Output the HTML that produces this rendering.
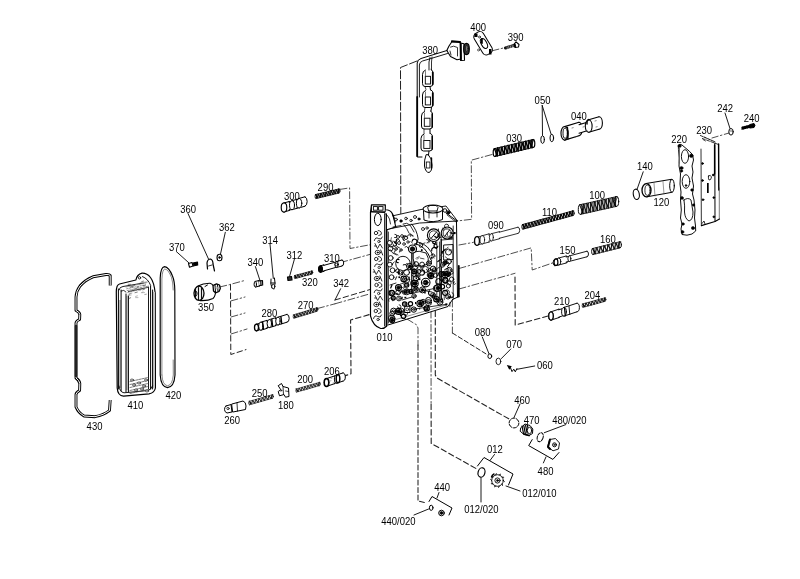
<!DOCTYPE html>
<html><head><meta charset="utf-8"><title>Valve body exploded view</title>
<style>
html,body{margin:0;padding:0;background:#fff;}
body{width:800px;height:579px;overflow:hidden;}
svg{display:block;filter:grayscale(100%);}
svg text{font-family:"Liberation Sans",sans-serif;fill:#000;stroke:none;}
</style></head><body>
<svg width="800" height="579" viewBox="0 0 800 579" font-family="Liberation Sans, sans-serif" stroke-linecap="round">
<rect x="0" y="0" width="800" height="579" fill="#fff"/>
<polyline points="417,61 400.5,67.5 400.8,213.5" fill="none" stroke="#222" stroke-width="1.0" stroke-dasharray="8,2.5" stroke-linejoin="round"/>
<polyline points="492,154.5 471.3,160.2 471.6,219.3 457,221" fill="none" stroke="#222" stroke-width="0.8" stroke-dasharray="7,2.5,1.5,2.5" stroke-linejoin="round"/>
<polyline points="459,245 473.4,242.4" fill="none" stroke="#222" stroke-width="0.8" stroke-dasharray="7,2.5,1.5,2.5" stroke-linejoin="round"/>
<polyline points="459,268.5 531.2,247.9 532.2,270 554.5,262.3" fill="none" stroke="#222" stroke-width="0.8" stroke-dasharray="7,2.5,1.5,2.5" stroke-linejoin="round"/>
<polyline points="459,289 515,273.3" fill="none" stroke="#222" stroke-width="0.8" stroke-dasharray="7,2.5,1.5,2.5" stroke-linejoin="round"/>
<polyline points="515,277 515.2,325 550.5,315.4" fill="none" stroke="#222" stroke-width="1.1" stroke-dasharray="5.5,3" stroke-linejoin="round"/>
<polyline points="452.4,300 452.4,333" fill="none" stroke="#222" stroke-width="0.8" stroke-dasharray="7,2.5,1.5,2.5" stroke-linejoin="round"/>
<polyline points="452.4,333 487,354.5" fill="none" stroke="#222" stroke-width="1.0" stroke-dasharray="4.5,2.5" stroke-linejoin="round"/>
<polyline points="435.3,311 435.3,375 437,378 509,419" fill="none" stroke="#222" stroke-width="1.1" stroke-dasharray="5.5,3" stroke-linejoin="round"/>
<polyline points="431,311 431.1,404" fill="none" stroke="#222" stroke-width="0.8" stroke-dasharray="7,2.5,1.5,2.5" stroke-linejoin="round"/>
<polyline points="431.1,404 431.2,443.4 476,468.5" fill="none" stroke="#222" stroke-width="1.1" stroke-dasharray="5.5,3" stroke-linejoin="round"/>
<polyline points="407,319 416.5,324.8 418,328 418,345" fill="none" stroke="#222" stroke-width="0.8" stroke-dasharray="7,2.5,1.5,2.5" stroke-linejoin="round"/>
<polyline points="418,345 418,501 426,503" fill="none" stroke="#222" stroke-width="1.05" stroke-dasharray="5,2.5" stroke-linejoin="round"/>
<polyline points="340,189.4 349.6,187.9 350,248.5 371,244.6" fill="none" stroke="#222" stroke-width="0.8" stroke-dasharray="7,2.5,1.5,2.5" stroke-linejoin="round"/>
<polyline points="340.7,262.5 370,254.4" fill="none" stroke="#222" stroke-width="0.8" stroke-dasharray="7,2.5,1.5,2.5" stroke-linejoin="round"/>
<polyline points="335,300 372.5,288.8" fill="none" stroke="#222" stroke-width="1.0" stroke-dasharray="5.5,3" stroke-linejoin="round"/>
<polyline points="335,303.8 370,293.8" fill="none" stroke="#222" stroke-width="0.8" stroke-dasharray="7,2.5,1.5,2.5" stroke-linejoin="round"/>
<polyline points="317.5,308.5 335,303.8" fill="none" stroke="#222" stroke-width="0.8" stroke-dasharray="7,2.5,1.5,2.5" stroke-linejoin="round"/>
<polyline points="342.5,376.6 351,373.8 350.6,320 371.9,313.8" fill="none" stroke="#222" stroke-width="1.1" stroke-dasharray="5.5,3" stroke-linejoin="round"/>
<polyline points="219.8,287 229.6,284.6 245,280.4" fill="none" stroke="#222" stroke-width="0.8" stroke-dasharray="7,2.5,1.5,2.5" stroke-linejoin="round"/>
<polyline points="230.5,284.6 230.8,354.5 246,349.6" fill="none" stroke="#222" stroke-width="1.0" stroke-dasharray="5.5,3" stroke-linejoin="round"/>
<polyline points="231,300.9 245,297" fill="none" stroke="#222" stroke-width="0.8" stroke-dasharray="7,2.5,1.5,2.5" stroke-linejoin="round"/>
<polyline points="231,317 245,313" fill="none" stroke="#222" stroke-width="0.8" stroke-dasharray="7,2.5,1.5,2.5" stroke-linejoin="round"/>
<polyline points="231,334 247,329" fill="none" stroke="#222" stroke-width="0.8" stroke-dasharray="7,2.5,1.5,2.5" stroke-linejoin="round"/>
<polyline points="492,50.8 505,47.6" fill="none" stroke="#222" stroke-width="0.8" stroke-dasharray="7,2.5,1.5,2.5" stroke-linejoin="round"/>
<polyline points="731,132.4 712,138" fill="none" stroke="#222" stroke-width="0.8" stroke-dasharray="7,2.5,1.5,2.5" stroke-linejoin="round"/>
<line x1="542.2" y1="105.5" x2="542.5" y2="135.5" stroke="#000" stroke-width="0.9"/>
<line x1="542.2" y1="105.5" x2="551.2" y2="134.5" stroke="#000" stroke-width="0.9"/>
<line x1="725" y1="113" x2="730" y2="128.5" stroke="#000" stroke-width="0.9"/>
<line x1="643.2" y1="171.8" x2="637" y2="189.5" stroke="#000" stroke-width="0.9"/>
<line x1="188" y1="213.5" x2="208.5" y2="259" stroke="#000" stroke-width="0.9"/>
<line x1="225.3" y1="232.3" x2="220.5" y2="254" stroke="#000" stroke-width="0.9"/>
<line x1="176.3" y1="251.5" x2="188.7" y2="262.7" stroke="#000" stroke-width="0.9"/>
<line x1="270" y1="244" x2="273.3" y2="278.5" stroke="#000" stroke-width="0.9"/>
<line x1="255.4" y1="266.6" x2="260.3" y2="281.5" stroke="#000" stroke-width="0.9"/>
<line x1="294.4" y1="259.2" x2="289.6" y2="276.3" stroke="#000" stroke-width="0.9"/>
<line x1="340.6" y1="288.8" x2="335" y2="300" stroke="#000" stroke-width="0.9"/>
<line x1="482.3" y1="337" x2="489.2" y2="354.3" stroke="#000" stroke-width="0.9"/>
<line x1="510.8" y1="349" x2="501.3" y2="358.6" stroke="#000" stroke-width="0.9"/>
<line x1="534.7" y1="366" x2="517" y2="369.3" stroke="#000" stroke-width="0.9"/>
<line x1="520" y1="404" x2="514" y2="417.5" stroke="#000" stroke-width="0.9"/>
<line x1="565.8" y1="424.6" x2="544.3" y2="432.7" stroke="#000" stroke-width="0.9"/>
<line x1="546" y1="456.9" x2="543.4" y2="462.9" stroke="#000" stroke-width="0.9"/>
<line x1="494.5" y1="454.5" x2="490" y2="460.5" stroke="#000" stroke-width="0.9"/>
<line x1="481" y1="478" x2="481" y2="502" stroke="#000" stroke-width="0.9"/>
<line x1="506" y1="486" x2="520" y2="491" stroke="#000" stroke-width="0.9"/>
<line x1="439" y1="492.5" x2="437" y2="498" stroke="#000" stroke-width="0.9"/>
<line x1="414" y1="515" x2="428.6" y2="509" stroke="#000" stroke-width="0.9"/>
<path d="M447,50.5 L429,56 L421,58.5 Q417.5,59.5 417.2,63 L417.2,157 L422,157" fill="none" stroke="#000" stroke-width="1.0" stroke-linejoin="round" />
<path d="M447.5,53.5 L430,58.8 L422.5,61 Q419.5,62 419.4,65 L419.4,97" fill="none" stroke="#000" stroke-width="0.9" stroke-linejoin="round" />
<line x1="417.2" y1="97" x2="417.2" y2="156" stroke="#000" stroke-width="1.8"/>
<path d="M430,57.5 L429,62 L429,70" fill="none" stroke="#000" stroke-width="0.9" stroke-linejoin="round" />
<path d="M432,57 L431.5,62 L431.5,70" fill="none" stroke="#000" stroke-width="0.8" stroke-linejoin="round" />
<path d="M431,69.5 Q433,70.5 433,72.5 L433,83.5 Q433,86.5 430,86.5 L425.0,86.5 Q422.5,86.5 422.5,83.5 L422.5,74.5 Q422.5,71.0 425.5,70.0" fill="none" stroke="#000" stroke-width="1.0" stroke-linejoin="round" />
<line x1="432.7" y1="72.5" x2="432.7" y2="84.5" stroke="#000" stroke-width="1.6"/>
<rect x="425.3" y="76.3" width="5.2" height="7.7" fill="none" stroke="#000" stroke-width="0.9"/>
<line x1="425.5" y1="71.5" x2="425.5" y2="76.3" stroke="#444" stroke-width="0.7"/>
<path d="M431,90 Q433,91 433,93 L433,104.5 Q433,107.5 430,107.5 L425.0,107.5 Q422.5,107.5 422.5,104.5 L422.5,95 Q422.5,91.5 425.5,90.5" fill="none" stroke="#000" stroke-width="1.0" stroke-linejoin="round" />
<line x1="432.7" y1="93" x2="432.7" y2="105.5" stroke="#000" stroke-width="1.6"/>
<rect x="425.3" y="97" width="5.2" height="7.9" fill="none" stroke="#000" stroke-width="0.9"/>
<line x1="425.5" y1="92" x2="425.5" y2="97" stroke="#444" stroke-width="0.7"/>
<path d="M430.5,111 Q432.5,112 432.5,114 L432.5,126 Q432.5,129 429.5,129 L424.0,129 Q421.5,129 421.5,126 L421.5,116 Q421.5,112.5 424.5,111.5" fill="none" stroke="#000" stroke-width="1.0" stroke-linejoin="round" />
<line x1="432.2" y1="114" x2="432.2" y2="127" stroke="#000" stroke-width="1.6"/>
<rect x="424.3" y="118.2" width="5.7" height="8.1" fill="none" stroke="#000" stroke-width="0.9"/>
<line x1="424.5" y1="113" x2="424.5" y2="118.2" stroke="#444" stroke-width="0.7"/>
<path d="M430.5,133.5 Q432.5,134.5 432.5,136.5 L432.5,148 Q432.5,151 429.5,151 L423.5,151 Q421,151 421,148 L421,138.5 Q421,135.0 424,134.0" fill="none" stroke="#000" stroke-width="1.0" stroke-linejoin="round" />
<line x1="432.2" y1="136.5" x2="432.2" y2="149" stroke="#000" stroke-width="1.6"/>
<rect x="423.8" y="140.5" width="6.2" height="7.9" fill="none" stroke="#000" stroke-width="0.9"/>
<line x1="424" y1="135.5" x2="424" y2="140.5" stroke="#444" stroke-width="0.7"/>
<path d="M426,155 Q424,160 424.5,166 Q425.5,172.5 429,172.5 Q432,171.5 432,165 Q432,158 428.5,155 Z" fill="none" stroke="#000" stroke-width="1.0" stroke-linejoin="round" />
<line x1="431.5" y1="158" x2="431.5" y2="168" stroke="#000" stroke-width="1.4"/>
<rect x="426.3" y="162" width="3.6" height="6" fill="none" stroke="#000" stroke-width="0.8"/>
<line x1="430" y1="86.5" x2="430.5" y2="90" stroke="#000" stroke-width="1.0"/>
<line x1="431.5" y1="107.5" x2="431" y2="111" stroke="#000" stroke-width="1.0"/>
<line x1="430" y1="129" x2="430" y2="133.5" stroke="#000" stroke-width="1.0"/>
<line x1="429" y1="151" x2="428.5" y2="155" stroke="#000" stroke-width="1.0"/>
<line x1="425" y1="86.5" x2="426" y2="89.5" stroke="#000" stroke-width="0.7"/>
<line x1="425" y1="107.5" x2="424.5" y2="111" stroke="#000" stroke-width="0.7"/>
<line x1="424" y1="129" x2="424" y2="133.5" stroke="#000" stroke-width="0.7"/>
<path d="M452,41.5 L459.5,42 L461,44 L461,59 L457,59.8 L450.5,56.5 L446.8,50.5 L449,46 Z" fill="none" stroke="#000" stroke-width="1.1" stroke-linejoin="round" />
<line x1="452" y1="41.3" x2="460" y2="42" stroke="#000" stroke-width="2.2"/>
<path d="M450.5,47 Q453.5,45 457.5,47.5 L457.5,56 M450,51 L451,55" fill="none" stroke="#000" stroke-width="0.8" stroke-linejoin="round" />
<path d="M460.5,43 L464,43.8 L464.5,60.3 L461,60.5 Z" fill="none" stroke="#000" stroke-width="1.1" stroke-linejoin="round" />
<line x1="460.5" y1="43.5" x2="460.8" y2="60" stroke="#000" stroke-width="1.8"/>
<ellipse cx="466.5" cy="49" rx="2.8" ry="5.6" fill="#333" stroke="#000" stroke-width="1.2"/>
<ellipse cx="466.8" cy="48.5" rx="1.2" ry="3" fill="#888" stroke="#000" stroke-width="0.6"/>
<rect x="-5.3" y="-12.2" width="10.6" height="24.4" rx="4" transform="translate(483.1 43.2) rotate(-31)" fill="#fff" stroke="#000" stroke-width="1.0"/>
<ellipse cx="484" cy="43.5" rx="2.8" ry="5.4" fill="#fff" stroke="#000" stroke-width="1.0" transform="rotate(-28 484 43.5)"/>
<rect x="474.3" y="33.5" width="3.2" height="3.5" fill="#000"/>
<rect x="481" y="38.3" width="1.8" height="5.5" fill="#000"/>
<rect x="489" y="49" width="2.5" height="5.5" fill="#000"/>
<circle cx="479.5" cy="37" r="1" fill="#fff" stroke="#000" stroke-width="0.7"/>
<circle cx="478.5" cy="50" r="1" fill="#fff" stroke="#000" stroke-width="0.6"/>
<line x1="505.5" y1="48" x2="514.5" y2="45.3" stroke="#111" stroke-width="3.0"/>
<line x1="507" y1="46.8" x2="507.4" y2="49.2" stroke="#fff" stroke-width="0.5"/>
<line x1="508.7" y1="46.3" x2="509.1" y2="48.7" stroke="#fff" stroke-width="0.5"/>
<line x1="510.4" y1="45.8" x2="510.8" y2="48.2" stroke="#fff" stroke-width="0.5"/>
<line x1="512.1" y1="45.3" x2="512.5" y2="47.7" stroke="#fff" stroke-width="0.5"/>
<line x1="513.8" y1="44.8" x2="514.2" y2="47.2" stroke="#fff" stroke-width="0.5"/>
<path d="M514,44.3 L516,41.8 L519,44.5 L518.5,47 L515,47.5 Z" fill="none" stroke="#000" stroke-width="1.1" stroke-linejoin="round" />
<line x1="514.5" y1="44.5" x2="515.5" y2="47.2" stroke="#000" stroke-width="1.2"/>
<ellipse cx="542.6" cy="139.6" rx="1.8" ry="3.8" fill="#fff" stroke="#000" stroke-width="1.0"/>
<ellipse cx="551.8" cy="138" rx="1.8" ry="3.7" fill="#fff" stroke="#000" stroke-width="1.0"/>
<polygon points="564.6,126.6 579,122.2 582.7,126.9 582.7,131 579,135.7 564.6,140.1" fill="#fff" stroke="none" stroke-width="0" stroke-linejoin="round"/>
<line x1="564.6" y1="126.6" x2="579" y2="122.2" stroke="#000" stroke-width="1.1"/>
<line x1="564.6" y1="140.1" x2="579" y2="135.7" stroke="#000" stroke-width="1.1"/>
<path d="M579,122.2 A3.6,6.8 0 0 1 579,135.7" fill="none" stroke="#000" stroke-width="1.1"/>
<ellipse cx="564.6" cy="133.3" rx="3.6" ry="6.8" fill="#fff" stroke="#000" stroke-width="1.1"/>
<polygon points="579,124.7 588.7,121.8 591,124.8 591,127.4 588.7,130.3 579,133.2" fill="#fff" stroke="none" stroke-width="0" stroke-linejoin="round"/>
<line x1="579" y1="124.7" x2="588.7" y2="121.8" stroke="#000" stroke-width="1.1"/>
<line x1="579" y1="133.2" x2="588.7" y2="130.3" stroke="#000" stroke-width="1.1"/>
<polygon points="588.7,119.8 599,116.8 602.4,121.1 602.4,124.9 599,129.2 588.7,132.3" fill="#fff" stroke="none" stroke-width="0" stroke-linejoin="round"/>
<line x1="588.7" y1="119.8" x2="599" y2="116.8" stroke="#000" stroke-width="1.1"/>
<line x1="588.7" y1="132.3" x2="599" y2="129.2" stroke="#000" stroke-width="1.1"/>
<path d="M599,116.8 A3.4,6.2 0 0 1 599,129.2" fill="none" stroke="#000" stroke-width="1.1"/>
<ellipse cx="588.7" cy="126.1" rx="3.4" ry="6.2" fill="#fff" stroke="#000" stroke-width="1.1"/>
<ellipse cx="565.2" cy="133.2" rx="2.2" ry="5.2" fill="#fff" stroke="#000" stroke-width="0.9"/>
<line x1="567.5" y1="127.5" x2="568" y2="139" stroke="#000" stroke-width="1.3"/>
<path d="M588.5,119.5 Q586.5,121 587,124" fill="none" stroke="#000" stroke-width="1.4" stroke-linejoin="round" />
<line x1="572" y1="128" x2="573.2" y2="127.7" stroke="#555" stroke-width="0.7"/>
<line x1="575" y1="137" x2="576.2" y2="136.7" stroke="#555" stroke-width="0.7"/>
<line x1="583" y1="127" x2="584.2" y2="126.7" stroke="#555" stroke-width="0.7"/>
<line x1="586" y1="131" x2="587.2" y2="130.7" stroke="#555" stroke-width="0.7"/>
<line x1="595" y1="121" x2="596.2" y2="120.7" stroke="#555" stroke-width="0.7"/>
<line x1="596" y1="127" x2="597.2" y2="126.7" stroke="#555" stroke-width="0.7"/>
<polyline points="494.2,148.5 497.5,156.1 497.6,147.7 501,155.3 501.1,146.9 504.5,154.5 504.5,146 507.9,153.6 508,145.2 511.4,152.8 511.5,144.4 514.8,152 514.9,143.6 518.3,151.2 518.4,142.8 521.7,150.4 521.8,142 525.2,149.5 525.3,141.1 528.6,148.7 528.7,140.3 532.1,147.9 532.2,139.5" fill="none" stroke="#000" stroke-width="1.2" stroke-linejoin="round"/>
<polyline points="495.8,148.5 495.9,156.1 499.3,147.7 499.4,155.3 502.7,146.9 502.8,154.5 506.2,146 506.3,153.6 509.6,145.2 509.7,152.8 513.1,144.4 513.2,152 516.5,143.6 516.6,151.2 520,142.8 520.1,150.4 523.5,142 523.5,149.5 526.9,141.1 527,148.7 530.4,140.3 530.5,147.9 533.8,139.5" fill="none" stroke="#000" stroke-width="0.84" stroke-linejoin="round"/>
<line x1="495" y1="148.5" x2="533" y2="139.5" stroke="#000" stroke-width="0.96"/>
<line x1="495" y1="156.5" x2="533" y2="147.5" stroke="#000" stroke-width="0.96"/>
<ellipse cx="495" cy="152.5" rx="1.8" ry="4" fill="none" stroke="#000" stroke-width="1.2"/>
<ellipse cx="533" cy="143.5" rx="1.8" ry="4" fill="none" stroke="#000" stroke-width="1.2"/>
<ellipse cx="731" cy="131.8" rx="2.2" ry="3.3" fill="#fff" stroke="#000" stroke-width="1.0"/>
<line x1="730" y1="131" x2="732" y2="131" stroke="#000" stroke-width="0.6"/>
<path d="M742,127.5 L750,125.5 M742,129 L750,127" fill="none" stroke="#000" stroke-width="1.3" stroke-linejoin="round" />
<path d="M750,124.5 L754,123.5 Q756,125 754,127.5 L750,128 Z" fill="#000" stroke="#000" stroke-width="1.0" stroke-linejoin="round" />
<line x1="743" y1="126.8" x2="743.5" y2="129" stroke="#000" stroke-width="1"/>
<line x1="745" y1="126.3" x2="745.5" y2="128.5" stroke="#000" stroke-width="1"/>
<line x1="747" y1="125.8" x2="747.5" y2="128" stroke="#000" stroke-width="1"/>
<line x1="749" y1="125.3" x2="749.5" y2="127.5" stroke="#000" stroke-width="1"/>
<polygon points="700.4,135.5 715,141.8 719.5,144 719.5,219 715,221.5 701.4,225.6 700.8,140" fill="#fff" stroke="none" stroke-width="0" stroke-linejoin="round"/>
<line x1="700.4" y1="135.5" x2="715" y2="141.8" stroke="#000" stroke-width="0.8" stroke-dasharray="3,1.5"/>
<line x1="702.4" y1="138.5" x2="718.5" y2="144.5" stroke="#000" stroke-width="0.8" stroke-dasharray="3,1.5"/>
<line x1="704" y1="137" x2="713" y2="141" stroke="#000" stroke-width="0.6" stroke-dasharray="2,2"/>
<line x1="701" y1="149" x2="701.4" y2="225.6" stroke="#444" stroke-width="1.1"/>
<line x1="714.8" y1="143" x2="715" y2="221.5" stroke="#000" stroke-width="1.0"/>
<line x1="714.6" y1="145" x2="714.6" y2="174" stroke="#000" stroke-width="1.4"/>
<line x1="718.6" y1="144" x2="718.8" y2="190" stroke="#000" stroke-width="1.4"/>
<line x1="719.3" y1="188" x2="719.3" y2="219" stroke="#555" stroke-width="0.8"/>
<path d="M701.4,225.6 L715,221.5 L719.5,219" fill="none" stroke="#000" stroke-width="1.1" stroke-linejoin="round" />
<rect x="707" y="183" width="1.7" height="10" fill="#000"/>
<circle cx="703" cy="199.7" r="0.9" fill="#000" stroke="#000" stroke-width="0.7"/>
<circle cx="713.8" cy="197.6" r="0.9" fill="#000" stroke="#000" stroke-width="0.7"/>
<circle cx="713.8" cy="216.8" r="0.9" fill="#000" stroke="#000" stroke-width="0.7"/>
<circle cx="702.5" cy="163.5" r="0.9" fill="#000" stroke="#000" stroke-width="0.7"/>
<circle cx="702.5" cy="180.5" r="0.9" fill="#000" stroke="#000" stroke-width="0.7"/>
<circle cx="713.2" cy="175" r="0.9" fill="#000" stroke="#000" stroke-width="0.7"/>
<path d="M708.5,176 Q710.5,174 711.5,177 Q711,180.5 709,180 Q708,178.5 708.5,176 Z" fill="none" stroke="#000" stroke-width="0.8" stroke-linejoin="round" />
<path d="M702,223.5 L704,221 L705,224" fill="none" stroke="#000" stroke-width="0.8" stroke-linejoin="round" />
<path d="M703,139.5 L705.5,141" fill="none" stroke="#000" stroke-width="0.7" stroke-linejoin="round" />
<path d="M678.6,145 Q680,143.5 682,145 L689.3,151.2 L692.5,154.5 L693.5,160 L692,166 L693,172 L692,178 L693.5,186 L692.5,194 L694,200 L695,210 L694.5,218 L695.5,226 L695.7,231 L692,234 L687,235.2 L682,234.5 L681,229 L682,224 L680.5,218 L681.3,210 L680.5,200 L681,192 L680,184 L680.5,174 L679,166 L679.3,158 L678.5,150 Z" fill="none" stroke="#000" stroke-width="0.95" stroke-linejoin="round" />
<ellipse cx="685" cy="156.5" rx="3.6" ry="6.8" fill="#fff" stroke="#000" stroke-width="0.9"/>
<ellipse cx="686" cy="181.5" rx="3.8" ry="6.8" fill="#fff" stroke="#000" stroke-width="0.9"/>
<path d="M684,200 Q688,197 691,200 L693,212 Q693,220 689,221 Q685,219 684.5,212 Q685,206 684,200 Z" fill="none" stroke="#000" stroke-width="0.9" stroke-linejoin="round" />
<circle cx="679.5" cy="146" r="1.6" fill="#000" stroke="#000" stroke-width="0.5"/>
<circle cx="691.3" cy="155.8" r="1.8" fill="#000" stroke="#000" stroke-width="0.5"/>
<circle cx="681.5" cy="168" r="1.6" fill="#000" stroke="#000" stroke-width="0.5"/>
<circle cx="681.5" cy="171" r="1.2" fill="#000" stroke="#000" stroke-width="0.5"/>
<circle cx="692" cy="190" r="1.3" fill="#000" stroke="#000" stroke-width="0.5"/>
<circle cx="682" cy="198" r="1.4" fill="#000" stroke="#000" stroke-width="0.5"/>
<circle cx="693.5" cy="205" r="1.2" fill="#000" stroke="#000" stroke-width="0.5"/>
<circle cx="683" cy="224" r="1.3" fill="#000" stroke="#000" stroke-width="0.5"/>
<circle cx="693" cy="228" r="1.6" fill="#000" stroke="#000" stroke-width="0.5"/>
<circle cx="682.5" cy="232" r="1.4" fill="#000" stroke="#000" stroke-width="0.5"/>
<circle cx="686" cy="185.5" r="0.9" fill="#000" stroke="#000" stroke-width="0.5"/>
<line x1="679.3" y1="148" x2="679.3" y2="163" stroke="#666" stroke-width="1.3"/>
<ellipse cx="636.3" cy="194.3" rx="3" ry="5.2" fill="#fff" stroke="#000" stroke-width="1.1" transform="rotate(-10 636.3 194.3)"/>
<path d="M646,183.5 L671,179.3 L672,192.3 L647,196.8 Z" fill="#fff" stroke="#000" stroke-width="0" stroke-linejoin="round" stroke="none"/>
<line x1="646" y1="183.5" x2="671.5" y2="179.3" stroke="#000" stroke-width="1.0"/>
<line x1="647" y1="196.8" x2="672" y2="192.3" stroke="#000" stroke-width="1.0"/>
<ellipse cx="672" cy="185.8" rx="2.3" ry="6.5" fill="#fff" stroke="#000" stroke-width="1.0"/>
<ellipse cx="646.5" cy="190.2" rx="4.5" ry="6.6" fill="#fff" stroke="#000" stroke-width="1.3"/>
<ellipse cx="647.5" cy="190.2" rx="2.6" ry="5.2" fill="#fff" stroke="#000" stroke-width="0.8"/>
<line x1="654" y1="183" x2="655" y2="196" stroke="#555" stroke-width="0.6"/>
<line x1="663" y1="181.5" x2="664" y2="194" stroke="#555" stroke-width="0.6"/>
<polyline points="579.6,204.6 583.2,214 583.2,203.8 586.8,213.2 586.8,203 590.4,212.4 590.4,202.2 594,211.6 594,201.4 597.6,210.8 597.6,200.6 601.2,210 601.2,199.8 604.8,209.2 604.8,199 608.4,208.4 608.4,198.2 612,207.6 612,197.4 615.6,206.8 615.6,196.6" fill="none" stroke="#000" stroke-width="0.95" stroke-linejoin="round"/>
<polyline points="581.4,204.6 581.4,214 585,203.8 585,213.2 588.6,203 588.6,212.4 592.2,202.2 592.2,211.6 595.8,201.4 595.8,210.8 599.4,200.6 599.4,210 603,199.8 603,209.2 606.6,199 606.6,208.4 610.2,198.2 610.2,207.6 613.8,197.4 613.8,206.8 617.4,196.6" fill="none" stroke="#000" stroke-width="0.6649999999999999" stroke-linejoin="round"/>
<line x1="580.5" y1="204.6" x2="616.5" y2="196.6" stroke="#000" stroke-width="0.76"/>
<line x1="580.5" y1="214.4" x2="616.5" y2="206.4" stroke="#000" stroke-width="0.76"/>
<ellipse cx="580.5" cy="209.5" rx="2.2" ry="4.9" fill="none" stroke="#000" stroke-width="0.95"/>
<ellipse cx="616.5" cy="201.5" rx="2.2" ry="4.9" fill="none" stroke="#000" stroke-width="0.95"/>
<polyline points="522.4,224.4 525,228.8 525.4,223.6 528,228.1 528.3,222.8 530.9,227.2 531.3,222 533.9,226.4 534.2,221.2 536.8,225.7 537.1,220.4 539.7,224.8 540.1,219.6 542.7,224 543,218.8 545.6,223.2 546,218 548.6,222.4 548.9,217.2 551.5,221.6 551.8,216.4 554.4,220.8 554.8,215.6 557.4,220 557.7,214.8 560.3,219.2 560.7,214 563.3,218.4 563.6,213.2 566.2,217.6 566.6,212.3 569.2,216.8 569.5,211.6 572.1,216 572.4,210.8" fill="none" stroke="#000" stroke-width="1.0" stroke-linejoin="round"/>
<polyline points="523.6,224.4 523.9,228.8 526.5,223.6 526.8,228.1 529.4,222.8 529.8,227.2 532.4,222 532.7,226.4 535.3,221.2 535.7,225.7 538.3,220.4 538.6,224.8 541.2,219.6 541.6,224 544.2,218.8 544.5,223.2 547.1,218 547.4,222.4 550,217.2 550.4,221.6 553,216.4 553.3,220.8 555.9,215.6 556.3,220 558.9,214.8 559.2,219.2 561.8,214 562.1,218.4 564.7,213.2 565.1,217.6 567.7,212.3 568,216.8 570.6,211.6 571,216 573.6,210.8" fill="none" stroke="#000" stroke-width="0.7" stroke-linejoin="round"/>
<line x1="523" y1="224.4" x2="573" y2="210.8" stroke="#000" stroke-width="0.8"/>
<line x1="523" y1="229.2" x2="573" y2="215.6" stroke="#000" stroke-width="0.8"/>
<ellipse cx="523" cy="226.8" rx="1.1" ry="2.5" fill="none" stroke="#000" stroke-width="1.0"/>
<ellipse cx="573" cy="213.2" rx="1.1" ry="2.5" fill="none" stroke="#000" stroke-width="1.0"/>
<polygon points="476.5,237.4 482.3,235.9 484.5,238.6 484.5,240.9 482.3,243.7 476.5,245.2" fill="#fff" stroke="none" stroke-width="0" stroke-linejoin="round"/>
<line x1="476.5" y1="237.4" x2="482.3" y2="235.9" stroke="#000" stroke-width="0.8"/>
<line x1="476.5" y1="245.2" x2="482.3" y2="243.7" stroke="#000" stroke-width="0.8"/>
<ellipse cx="476.5" cy="241.3" rx="2.2" ry="3.9" fill="#fff" stroke="#000" stroke-width="0.8"/>
<polygon points="482.3,235.7 488.9,233.9 491.2,236.8 491.2,239.2 488.9,242.1 482.3,243.9" fill="#fff" stroke="none" stroke-width="0" stroke-linejoin="round"/>
<line x1="482.3" y1="235.7" x2="488.9" y2="233.9" stroke="#000" stroke-width="0.8"/>
<line x1="482.3" y1="243.9" x2="488.9" y2="242.1" stroke="#000" stroke-width="0.8"/>
<path d="M488.9,233.9 A2.3,4.1 0 0 1 488.9,242.1" fill="none" stroke="#000" stroke-width="0.8"/>
<ellipse cx="482.3" cy="239.8" rx="2.3" ry="4.1" fill="#fff" stroke="#000" stroke-width="0.8"/>
<polygon points="488.9,235 491.4,234.3 493.1,236.4 493.1,238.2 491.4,240.3 488.9,241" fill="#fff" stroke="none" stroke-width="0" stroke-linejoin="round"/>
<line x1="488.9" y1="235" x2="491.4" y2="234.3" stroke="#000" stroke-width="0.8"/>
<line x1="488.9" y1="241" x2="491.4" y2="240.3" stroke="#000" stroke-width="0.8"/>
<polygon points="491.4,233.7 499.3,231.7 501.3,234.2 501.3,236.3 499.3,238.8 491.4,240.9" fill="#fff" stroke="none" stroke-width="0" stroke-linejoin="round"/>
<line x1="491.4" y1="233.7" x2="499.3" y2="231.7" stroke="#000" stroke-width="0.8"/>
<line x1="491.4" y1="240.9" x2="499.3" y2="238.8" stroke="#000" stroke-width="0.8"/>
<path d="M499.3,231.7 A2,3.6 0 0 1 499.3,238.8" fill="none" stroke="#000" stroke-width="0.8"/>
<ellipse cx="491.4" cy="237.3" rx="2" ry="3.6" fill="#fff" stroke="#000" stroke-width="0.8"/>
<polygon points="499.3,232.2 518,227.2 519.7,229.4 519.7,231.2 518,233.4 499.3,238.3" fill="#fff" stroke="none" stroke-width="0" stroke-linejoin="round"/>
<line x1="499.3" y1="232.2" x2="518" y2="227.2" stroke="#000" stroke-width="0.8"/>
<line x1="499.3" y1="238.3" x2="518" y2="233.4" stroke="#000" stroke-width="0.8"/>
<path d="M518,227.2 A1.7,3.1 0 0 1 518,233.4" fill="none" stroke="#000" stroke-width="0.8"/>
<ellipse cx="477" cy="241" rx="2.4" ry="4.3" fill="#fff" stroke="#000" stroke-width="1.2"/>
<polygon points="555,259.2 558.8,258.2 560.7,260.5 560.7,262.5 558.8,264.7 555,265.8" fill="#fff" stroke="none" stroke-width="0" stroke-linejoin="round"/>
<line x1="555" y1="259.2" x2="558.8" y2="258.2" stroke="#000" stroke-width="0.9"/>
<line x1="555" y1="265.8" x2="558.8" y2="264.7" stroke="#000" stroke-width="0.9"/>
<ellipse cx="555" cy="262.5" rx="1.8" ry="3.2" fill="#fff" stroke="#000" stroke-width="0.9"/>
<polygon points="558.8,258 566.2,256 568.2,258.5 568.2,260.6 566.2,263 558.8,265" fill="#fff" stroke="none" stroke-width="0" stroke-linejoin="round"/>
<line x1="558.8" y1="258" x2="566.2" y2="256" stroke="#000" stroke-width="0.9"/>
<line x1="558.8" y1="265" x2="566.2" y2="263" stroke="#000" stroke-width="0.9"/>
<path d="M566.2,256 A2,3.5 0 0 1 566.2,263" fill="none" stroke="#000" stroke-width="0.9"/>
<ellipse cx="558.8" cy="261.5" rx="2" ry="3.5" fill="#fff" stroke="#000" stroke-width="0.9"/>
<polygon points="566.2,257 569.4,256.2 570.8,257.9 570.8,259.4 569.4,261.2 566.2,262" fill="#fff" stroke="none" stroke-width="0" stroke-linejoin="round"/>
<line x1="566.2" y1="257" x2="569.4" y2="256.2" stroke="#000" stroke-width="0.9"/>
<line x1="566.2" y1="262" x2="569.4" y2="261.2" stroke="#000" stroke-width="0.9"/>
<polygon points="569.4,255.9 587,251.2 588.5,253.2 588.5,254.8 587,256.8 569.4,261.4" fill="#fff" stroke="none" stroke-width="0" stroke-linejoin="round"/>
<line x1="569.4" y1="255.9" x2="587" y2="251.2" stroke="#000" stroke-width="0.9"/>
<line x1="569.4" y1="261.4" x2="587" y2="256.8" stroke="#000" stroke-width="0.9"/>
<path d="M587,251.2 A1.5,2.8 0 0 1 587,256.8" fill="none" stroke="#000" stroke-width="0.9"/>
<ellipse cx="569.4" cy="258.7" rx="1.5" ry="2.8" fill="#fff" stroke="#000" stroke-width="0.9"/>
<ellipse cx="556" cy="262.2" rx="1.9" ry="3.3" fill="#fff" stroke="#000" stroke-width="1.2"/>
<polyline points="592.3,248.4 595.7,254.1 596.1,247.4 599.5,253.2 600,246.5 603.4,252.2 603.8,245.5 607.2,251.2 607.7,244.6 611.1,250.3 611.6,243.6 614.9,249.3 615.4,242.7 618.8,248.4 619.3,241.7" fill="none" stroke="#000" stroke-width="0.9" stroke-linejoin="round"/>
<polyline points="593.7,248.4 594.2,254.1 597.6,247.4 598.1,253.2 601.4,246.5 601.9,252.2 605.3,245.5 605.8,251.2 609.2,244.6 609.6,250.3 613,243.6 613.5,249.3 616.9,242.7 617.3,248.4 620.7,241.7" fill="none" stroke="#000" stroke-width="0.63" stroke-linejoin="round"/>
<line x1="593" y1="248.4" x2="620" y2="241.7" stroke="#000" stroke-width="0.7200000000000001"/>
<line x1="593" y1="254.6" x2="620" y2="247.9" stroke="#000" stroke-width="0.7200000000000001"/>
<ellipse cx="593" cy="251.5" rx="1.4" ry="3.1" fill="none" stroke="#000" stroke-width="0.9"/>
<ellipse cx="620" cy="244.8" rx="1.4" ry="3.1" fill="none" stroke="#000" stroke-width="0.9"/>
<polygon points="551,311.8 558.8,309.2 561.2,312.2 561.2,314.7 558.8,317.6 551,320.2" fill="#fff" stroke="none" stroke-width="0" stroke-linejoin="round"/>
<line x1="551" y1="311.8" x2="558.8" y2="309.2" stroke="#000" stroke-width="0.95"/>
<line x1="551" y1="320.2" x2="558.8" y2="317.6" stroke="#000" stroke-width="0.95"/>
<path d="M558.8,309.2 A2.4,4.2 0 0 1 558.8,317.6" fill="none" stroke="#000" stroke-width="0.95"/>
<ellipse cx="551" cy="316" rx="2.4" ry="4.2" fill="#fff" stroke="#000" stroke-width="0.95"/>
<polygon points="558.8,309.8 564,308.1 566,310.7 566,312.8 564,315.4 558.8,317.1" fill="#fff" stroke="none" stroke-width="0" stroke-linejoin="round"/>
<line x1="558.8" y1="309.8" x2="564" y2="308.1" stroke="#000" stroke-width="0.95"/>
<line x1="558.8" y1="317.1" x2="564" y2="315.4" stroke="#000" stroke-width="0.95"/>
<polygon points="564,307.4 577,303.2 579.4,306.2 579.4,308.8 577,311.8 564,316.1" fill="#fff" stroke="none" stroke-width="0" stroke-linejoin="round"/>
<line x1="564" y1="307.4" x2="577" y2="303.2" stroke="#000" stroke-width="0.95"/>
<line x1="564" y1="316.1" x2="577" y2="311.8" stroke="#000" stroke-width="0.95"/>
<path d="M577,303.2 A2.4,4.3 0 0 1 577,311.8" fill="none" stroke="#000" stroke-width="0.95"/>
<ellipse cx="564" cy="311.8" rx="2.4" ry="4.3" fill="#fff" stroke="#000" stroke-width="0.95"/>
<ellipse cx="551" cy="316" rx="2.2" ry="4" fill="#fff" stroke="#000" stroke-width="1.2"/>
<line x1="564.5" y1="307.5" x2="565.3" y2="315.8" stroke="#000" stroke-width="1.3"/>
<line x1="569" y1="306.3" x2="569.8" y2="314.5" stroke="#000" stroke-width="0.9"/>
<polyline points="582.6,303.8 585,307 585.7,302.9 588.1,306.1 588.9,302.1 591.3,305.3 592,301.2 594.4,304.4 595.2,300.4 597.6,303.5 598.3,299.5 600.7,302.7 601.4,298.7 603.8,301.8 604.6,297.8" fill="none" stroke="#000" stroke-width="0.8" stroke-linejoin="round"/>
<polyline points="583.4,303.8 584.2,307 586.6,302.9 587.3,306.1 589.7,302.1 590.4,305.3 592.8,301.2 593.6,304.4 596,300.4 596.7,303.5 599.1,299.5 599.9,302.7 602.3,298.7 603,301.8 605.4,297.8" fill="none" stroke="#000" stroke-width="0.5599999999999999" stroke-linejoin="round"/>
<line x1="583" y1="303.8" x2="605" y2="297.8" stroke="#000" stroke-width="0.6400000000000001"/>
<line x1="583" y1="307.4" x2="605" y2="301.4" stroke="#000" stroke-width="0.6400000000000001"/>
<ellipse cx="583" cy="305.6" rx="0.8" ry="1.8" fill="none" stroke="#000" stroke-width="0.8"/>
<ellipse cx="605" cy="299.6" rx="0.8" ry="1.8" fill="none" stroke="#000" stroke-width="0.8"/>
<ellipse cx="489.8" cy="356.2" rx="1.9" ry="2.3" fill="#fff" stroke="#000" stroke-width="1.0"/>
<ellipse cx="498.4" cy="361.4" rx="2.4" ry="3.3" fill="#fff" stroke="#000" stroke-width="0.85"/>
<polygon points="506.8,365 511.8,366.3 509.3,369.8" fill="#000"/>
<path d="M510.5,367.8 L512,371.6 L513.8,369.2 L515.3,371.8 L516.9,368.6" fill="none" stroke="#000" stroke-width="1.0" stroke-linejoin="round" />
<polygon points="386.5,229 420,222 456,219.5 457.5,297 452.5,299.5 448,306.5 388.5,325" fill="#fff" stroke="none" stroke-width="0" stroke-linejoin="round"/>
<path d="M386.5,229 L392,216 L421,209.5 L446,206 L457.5,221 L420,223 Z" fill="#fff" stroke="#000" stroke-width="0.9" stroke-linejoin="round" />
<path d="M456.5,221 L457.5,297" fill="none" stroke="#000" stroke-width="1.0" stroke-linejoin="round" />
<line x1="458.8" y1="266" x2="458.8" y2="296.5" stroke="#000" stroke-width="1.8"/>
<line x1="452.5" y1="299.5" x2="459" y2="296.5" stroke="#000" stroke-width="1.0"/>
<line x1="453.2" y1="226" x2="453.2" y2="299" stroke="#000" stroke-width="0.8"/>
<path d="M388,325 L448,306.5 L452.5,299.5" fill="none" stroke="#000" stroke-width="1.0" stroke-linejoin="round" />
<path d="M389,321.5 L446,305" fill="none" stroke="#444" stroke-width="0.6" stroke-linejoin="round" />
<line x1="386.8" y1="229" x2="386.8" y2="325" stroke="#000" stroke-width="1.0"/>
<line x1="388.5" y1="232" x2="388.5" y2="323" stroke="#000" stroke-width="0.7"/>
<path d="M370.5,212 L371.5,205 L385.3,205 L385.3,209.7 Q390,209.5 392,213 Q394,218 395.7,227 L386.8,229.7 L386.8,326 Q384,329 380.7,328.5 Q373,326 370.5,316 Z" fill="#fff" stroke="#000" stroke-width="1.1" stroke-linejoin="round" />
<line x1="370.5" y1="212" x2="370.5" y2="316" stroke="#000" stroke-width="1.1"/>
<line x1="384.6" y1="214" x2="384.6" y2="326" stroke="#000" stroke-width="0.9"/>
<line x1="386.3" y1="214" x2="386.3" y2="326" stroke="#000" stroke-width="1.3"/>
<rect x="371.4" y="205" width="13.8" height="6.8" fill="#fff" stroke="#000" stroke-width="1.0"/>
<rect x="373.4" y="206.6" width="4" height="3.6" fill="none" stroke="#000" stroke-width="0.9"/>
<rect x="378.6" y="206.6" width="4.4" height="3.6" fill="none" stroke="#000" stroke-width="0.9"/>
<line x1="371.5" y1="211.8" x2="384.5" y2="212.5" stroke="#000" stroke-width="1.1"/>
<ellipse cx="377.8" cy="219.4" rx="3.4" ry="6.2" fill="#fff" stroke="#000" stroke-width="1.0"/>
<path d="M384.5,213 Q388,215 389.5,219 L390.5,224" fill="none" stroke="#000" stroke-width="0.8" stroke-linejoin="round" />
<path d="M392.5,214 Q394.5,218 395,222" fill="none" stroke="#000" stroke-width="1.3" stroke-linejoin="round" />
<circle cx="376" cy="233" r="1.7" fill="#fff" stroke="#000" stroke-width="0.8"/>
<path d="M378.19664271182353,230.5 Q382.19664271182353,231 381.19664271182353,234.5 L378.69664271182353,235.5" fill="none" stroke="#000" stroke-width="0.8" stroke-linejoin="round" />
<path d="M374.38685918281715,240.5 Q375.38685918281715,236.5 378.38685918281715,238.5 Q381.38685918281715,240.5 382.38685918281715,237.0" fill="none" stroke="#000" stroke-width="0.85" stroke-linejoin="round" />
<circle cx="378.9" cy="241.5" r="1.2" fill="#fff" stroke="#000" stroke-width="0.7"/>
<path d="M374.9723097049051,243.5 L377.4723097049051,248.5 L379.9723097049051,244 L382.4723097049051,248" fill="none" stroke="#000" stroke-width="0.8" stroke-linejoin="round" />
<line x1="374.5" y1="246" x2="376" y2="246" stroke="#000" stroke-width="0.8"/>
<ellipse cx="377.7" cy="252.5" rx="2.6" ry="2.2" fill="#fff" stroke="#000" stroke-width="0.8"/>
<line x1="380.7" y1="250" x2="382.7" y2="255" stroke="#000" stroke-width="0.85"/>
<circle cx="377.7" cy="252.5" r="0.7" fill="#000" stroke="#000" stroke-width="0.5"/>
<circle cx="376.2" cy="259" r="1.7" fill="#fff" stroke="#000" stroke-width="0.8"/>
<path d="M378.3838377195839,256.5 Q382.3838377195839,257 381.3838377195839,260.5 L378.8838377195839,261.5" fill="none" stroke="#000" stroke-width="0.8" stroke-linejoin="round" />
<path d="M374.6757199946647,266.5 Q375.6757199946647,262.5 378.6757199946647,264.5 Q381.6757199946647,266.5 382.6757199946647,263.0" fill="none" stroke="#000" stroke-width="0.85" stroke-linejoin="round" />
<circle cx="379.2" cy="267.5" r="1.2" fill="#fff" stroke="#000" stroke-width="0.7"/>
<path d="M373.7464083652538,269.5 L376.2464083652538,274.5 L378.7464083652538,270 L381.2464083652538,274" fill="none" stroke="#000" stroke-width="0.8" stroke-linejoin="round" />
<line x1="373.2" y1="272" x2="374.7" y2="272" stroke="#000" stroke-width="0.8"/>
<ellipse cx="376.9" cy="278.5" rx="2.6" ry="2.2" fill="#fff" stroke="#000" stroke-width="0.8"/>
<line x1="379.9" y1="276" x2="381.9" y2="281" stroke="#000" stroke-width="0.85"/>
<circle cx="376.9" cy="278.5" r="0.7" fill="#000" stroke="#000" stroke-width="0.5"/>
<circle cx="376.5" cy="285" r="1.7" fill="#fff" stroke="#000" stroke-width="0.8"/>
<path d="M378.7093707471973,282.5 Q382.7093707471973,283 381.7093707471973,286.5 L379.2093707471973,287.5" fill="none" stroke="#000" stroke-width="0.8" stroke-linejoin="round" />
<path d="M374.2383592850191,292.5 Q375.2383592850191,288.5 378.2383592850191,290.5 Q381.2383592850191,292.5 382.2383592850191,289.0" fill="none" stroke="#000" stroke-width="0.85" stroke-linejoin="round" />
<circle cx="378.7" cy="293.5" r="1.2" fill="#fff" stroke="#000" stroke-width="0.7"/>
<path d="M375.141440786801,295.5 L377.641440786801,300.5 L380.141440786801,296 L382.641440786801,300" fill="none" stroke="#000" stroke-width="0.8" stroke-linejoin="round" />
<line x1="374.6" y1="298" x2="376.1" y2="298" stroke="#000" stroke-width="0.8"/>
<ellipse cx="376.4" cy="304.5" rx="2.6" ry="2.2" fill="#fff" stroke="#000" stroke-width="0.8"/>
<line x1="379.4" y1="302" x2="381.4" y2="307" stroke="#000" stroke-width="0.85"/>
<circle cx="376.4" cy="304.5" r="0.7" fill="#000" stroke="#000" stroke-width="0.5"/>
<circle cx="375.8" cy="311" r="1.7" fill="#fff" stroke="#000" stroke-width="0.8"/>
<path d="M377.9505104764515,308.5 Q381.9505104764515,309 380.9505104764515,312.5 L378.4505104764515,313.5" fill="none" stroke="#000" stroke-width="0.8" stroke-linejoin="round" />
<path d="M373.59451653219173,318.5 Q374.59451653219173,314.5 377.59451653219173,316.5 Q380.59451653219173,318.5 381.59451653219173,315.0" fill="none" stroke="#000" stroke-width="0.85" stroke-linejoin="round" />
<circle cx="378.1" cy="319.5" r="1.2" fill="#fff" stroke="#000" stroke-width="0.7"/>
<path d="M423.5,211 L424,220 Q433,223.5 442.5,219.5 L442.5,209" fill="#fff" stroke="#000" stroke-width="1.0" stroke-linejoin="round" />
<ellipse cx="433" cy="209" rx="10" ry="4" fill="#fff" stroke="#000" stroke-width="1.1"/>
<path d="M428,207 L430,205.5 L436,205.5 L438,207.5 L437,211 L429,211 Z" fill="none" stroke="#000" stroke-width="0.9" stroke-linejoin="round" />
<line x1="429" y1="211" x2="429" y2="218" stroke="#000" stroke-width="0.8"/>
<line x1="437" y1="211" x2="437" y2="217" stroke="#000" stroke-width="0.8"/>
<circle cx="445" cy="210.5" r="1.8" fill="#fff" stroke="#000" stroke-width="0.9"/>
<circle cx="448.5" cy="212.5" r="1.6" fill="#000" stroke="#000" stroke-width="0.9"/>
<path d="M446,213 L457,221" fill="none" stroke="#000" stroke-width="1.0" stroke-linejoin="round" />
<path d="M447,215 L456,222" fill="none" stroke="#000" stroke-width="0.7" stroke-linejoin="round" />
<circle cx="396" cy="219.5" r="1.4" fill="#fff" stroke="#000" stroke-width="0.8"/>
<circle cx="401" cy="221" r="1.2" fill="#000" stroke="#000" stroke-width="0.8"/>
<circle cx="406" cy="218.5" r="1.3" fill="#fff" stroke="#000" stroke-width="0.8"/>
<circle cx="411" cy="220.5" r="1.2" fill="#fff" stroke="#000" stroke-width="0.8"/>
<circle cx="415" cy="217" r="1.5" fill="#fff" stroke="#000" stroke-width="0.8"/>
<circle cx="419" cy="219" r="1.1" fill="#000" stroke="#000" stroke-width="0.8"/>
<path d="M403,224 Q407,222 410,225 L414,232" fill="none" stroke="#000" stroke-width="0.8" stroke-linejoin="round" />
<circle cx="433.7" cy="235.2" r="6.3" fill="#fff" stroke="#000" stroke-width="1.1"/>
<circle cx="433.7" cy="235.2" r="4.4" fill="#fff" stroke="#000" stroke-width="0.8"/>
<line x1="431" y1="238.5" x2="436.5" y2="232" stroke="#000" stroke-width="1.0"/>
<circle cx="447.2" cy="233" r="6" fill="#fff" stroke="#000" stroke-width="1.1"/>
<circle cx="447.2" cy="233" r="4.1" fill="#fff" stroke="#000" stroke-width="0.8"/>
<line x1="445" y1="236" x2="449.5" y2="230" stroke="#000" stroke-width="1.0"/>
<line x1="436.8" y1="242" x2="436.8" y2="300" stroke="#000" stroke-width="0.8"/>
<line x1="439.6" y1="242" x2="439.6" y2="300" stroke="#000" stroke-width="0.8"/>
<line x1="441.2" y1="239" x2="441.2" y2="300" stroke="#000" stroke-width="1.4"/>
<line x1="411.5" y1="253" x2="411.5" y2="293" stroke="#000" stroke-width="0.8"/>
<line x1="413" y1="253" x2="413" y2="293" stroke="#000" stroke-width="0.8"/>
<circle cx="403" cy="263.6" r="7.3" fill="#fff" stroke="#000" stroke-width="0.9"/>
<path d="M413,252 Q419,250 426,253 Q429.5,258 428,264 Q422,267.5 415,265 Q412,259 413,252 Z" fill="none" stroke="#000" stroke-width="0.9" stroke-linejoin="round" />
<circle cx="412.5" cy="249" r="4" fill="#fff" stroke="#000" stroke-width="1.2"/>
<circle cx="412.5" cy="249" r="2.2" fill="#111" stroke="#000" stroke-width="0.8"/>
<path d="M416,244 Q426,246 431,260" fill="none" stroke="#000" stroke-width="1.0" stroke-linejoin="round" />
<path d="M418,242 Q429,244 434,258" fill="none" stroke="#000" stroke-width="0.9" stroke-linejoin="round" />
<path d="M411.6,224 Q417,230 418.2,239 L416,245" fill="none" stroke="#000" stroke-width="0.9" stroke-linejoin="round" />
<path d="M404,225 Q407,228 409,233" fill="none" stroke="#000" stroke-width="0.8" stroke-linejoin="round" />
<path d="M444,245 L453,244.5 L453,259.5 L444,260 Z" fill="none" stroke="#000" stroke-width="0.9" stroke-linejoin="round" />
<circle cx="448.5" cy="252" r="3" fill="#fff" stroke="#000" stroke-width="0.9"/>
<circle cx="445" cy="262.7" r="2" fill="#222" stroke="#000" stroke-width="1.0"/>
<circle cx="389.9" cy="242.8" r="2.4" fill="#fff" stroke="#000" stroke-width="0.9"/>
<circle cx="390.7" cy="248.5" r="2.4" fill="#fff" stroke="#000" stroke-width="0.9"/>
<circle cx="390.7" cy="258" r="2.4" fill="#fff" stroke="#000" stroke-width="0.9"/>
<circle cx="389.9" cy="264.6" r="2.4" fill="#fff" stroke="#000" stroke-width="0.9"/>
<circle cx="392.6" cy="270.3" r="2.4" fill="#fff" stroke="#000" stroke-width="0.9"/>
<circle cx="391.6" cy="277.2" r="2.4" fill="#fff" stroke="#000" stroke-width="0.9"/>
<circle cx="392.2" cy="292.8" r="2.4" fill="#fff" stroke="#000" stroke-width="0.9"/>
<circle cx="392.2" cy="313.5" r="2.4" fill="#fff" stroke="#000" stroke-width="0.9"/>
<circle cx="398" cy="237" r="1.5" fill="#fff" stroke="#000" stroke-width="0.8"/>
<circle cx="402" cy="236" r="1.4" fill="#fff" stroke="#000" stroke-width="0.8"/>
<circle cx="406" cy="238" r="1.6" fill="#fff" stroke="#000" stroke-width="0.8"/>
<circle cx="399" cy="243" r="1.5" fill="#fff" stroke="#000" stroke-width="0.8"/>
<circle cx="404" cy="244" r="1.3" fill="#fff" stroke="#000" stroke-width="0.8"/>
<circle cx="408" cy="242" r="1.2" fill="#fff" stroke="#000" stroke-width="0.8"/>
<circle cx="396" cy="249" r="1.4" fill="#fff" stroke="#000" stroke-width="0.8"/>
<circle cx="401" cy="250" r="1.2" fill="#fff" stroke="#000" stroke-width="0.8"/>
<circle cx="423" cy="229" r="1.5" fill="#fff" stroke="#000" stroke-width="0.8"/>
<circle cx="427" cy="228" r="1.2" fill="#fff" stroke="#000" stroke-width="0.8"/>
<path d="M397,240 Q399,238 400,241 M405,247 Q407,245 408,248 M394,253 L398,255" fill="none" stroke="#000" stroke-width="0.8" stroke-linejoin="round" />
<circle cx="406.2" cy="279.7" r="3.5" fill="#fff" stroke="#000" stroke-width="0.9"/>
<circle cx="406.2" cy="279.7" r="1.6" fill="#fff" stroke="#000" stroke-width="0.6"/>
<circle cx="415" cy="283.5" r="3.2" fill="#fff" stroke="#000" stroke-width="1.1"/>
<circle cx="415" cy="283.5" r="1.8" fill="#000" stroke="#000" stroke-width="0.8"/>
<circle cx="425.7" cy="282.6" r="4.3" fill="#fff" stroke="#000" stroke-width="1.1"/>
<circle cx="425.7" cy="282.6" r="2.4" fill="#000" stroke="#000" stroke-width="0.8"/>
<circle cx="398.5" cy="287.6" r="3" fill="#fff" stroke="#000" stroke-width="1.1"/>
<circle cx="398.5" cy="287.6" r="1.7" fill="#000" stroke="#000" stroke-width="0.8"/>
<circle cx="406.8" cy="291.8" r="3" fill="#fff" stroke="#000" stroke-width="0.9"/>
<circle cx="406.8" cy="291.8" r="1.4" fill="#fff" stroke="#000" stroke-width="0.6"/>
<circle cx="437.8" cy="288.1" r="3.3" fill="#fff" stroke="#000" stroke-width="1.1"/>
<circle cx="437.8" cy="288.1" r="1.8" fill="#000" stroke="#000" stroke-width="0.8"/>
<circle cx="445.6" cy="280.9" r="2.6" fill="#fff" stroke="#000" stroke-width="0.9"/>
<circle cx="445.6" cy="280.9" r="1.2" fill="#fff" stroke="#000" stroke-width="0.6"/>
<circle cx="448.1" cy="296.4" r="2.6" fill="#fff" stroke="#000" stroke-width="0.9"/>
<circle cx="448.1" cy="296.4" r="1.2" fill="#fff" stroke="#000" stroke-width="0.6"/>
<circle cx="439.9" cy="302.1" r="3" fill="#fff" stroke="#000" stroke-width="0.9"/>
<circle cx="439.9" cy="302.1" r="1.4" fill="#fff" stroke="#000" stroke-width="0.6"/>
<circle cx="420.1" cy="303.6" r="3.2" fill="#fff" stroke="#000" stroke-width="1.1"/>
<circle cx="420.1" cy="303.6" r="1.8" fill="#000" stroke="#000" stroke-width="0.8"/>
<circle cx="428.5" cy="302.6" r="3" fill="#fff" stroke="#000" stroke-width="0.9"/>
<circle cx="428.5" cy="302.6" r="1.4" fill="#fff" stroke="#000" stroke-width="0.6"/>
<circle cx="426" cy="309.4" r="1.6" fill="#fff" stroke="#000" stroke-width="0.9"/>
<circle cx="426" cy="309.4" r="0.7" fill="#fff" stroke="#000" stroke-width="0.6"/>
<circle cx="398.5" cy="311.4" r="3" fill="#fff" stroke="#000" stroke-width="1.1"/>
<circle cx="398.5" cy="311.4" r="1.7" fill="#000" stroke="#000" stroke-width="0.8"/>
<circle cx="392.2" cy="320.2" r="2.5" fill="#fff" stroke="#000" stroke-width="1.1"/>
<circle cx="392.2" cy="320.2" r="1.4" fill="#000" stroke="#000" stroke-width="0.8"/>
<circle cx="449.5" cy="270" r="2.6" fill="#fff" stroke="#000" stroke-width="0.9"/>
<circle cx="449.5" cy="270" r="1.2" fill="#fff" stroke="#000" stroke-width="0.6"/>
<circle cx="445" cy="274.5" r="3.2" fill="#fff" stroke="#000" stroke-width="1.1"/>
<circle cx="445" cy="274.5" r="1.8" fill="#000" stroke="#000" stroke-width="0.8"/>
<circle cx="442.5" cy="265" r="2.2" fill="#fff" stroke="#000" stroke-width="0.9"/>
<circle cx="442.5" cy="265" r="1" fill="#fff" stroke="#000" stroke-width="0.6"/>
<circle cx="433" cy="295" r="2.4" fill="#fff" stroke="#000" stroke-width="0.9"/>
<circle cx="433" cy="295" r="1.1" fill="#fff" stroke="#000" stroke-width="0.6"/>
<circle cx="399" cy="298.5" r="2.4" fill="#fff" stroke="#000" stroke-width="0.9"/>
<circle cx="399" cy="298.5" r="1.1" fill="#fff" stroke="#000" stroke-width="0.6"/>
<circle cx="414" cy="296" r="2.2" fill="#fff" stroke="#000" stroke-width="0.9"/>
<circle cx="414" cy="296" r="1" fill="#fff" stroke="#000" stroke-width="0.6"/>
<circle cx="400.5" cy="272.5" r="2.6" fill="#fff" stroke="#000" stroke-width="0.9"/>
<circle cx="400.5" cy="272.5" r="1.2" fill="#fff" stroke="#000" stroke-width="0.6"/>
<circle cx="418" cy="275" r="2.3" fill="#fff" stroke="#000" stroke-width="0.9"/>
<circle cx="418" cy="275" r="1" fill="#fff" stroke="#000" stroke-width="0.6"/>
<circle cx="431" cy="276" r="2.6" fill="#fff" stroke="#000" stroke-width="1.1"/>
<circle cx="431" cy="276" r="1.4" fill="#000" stroke="#000" stroke-width="0.8"/>
<circle cx="434.5" cy="270" r="2.2" fill="#fff" stroke="#000" stroke-width="0.9"/>
<circle cx="434.5" cy="270" r="1" fill="#fff" stroke="#000" stroke-width="0.6"/>
<rect x="404.7" y="306.3" width="5.2" height="6.2" fill="#fff" stroke="#000" stroke-width="1.0"/>
<circle cx="407.3" cy="309.4" r="1.4" fill="#fff" stroke="#000" stroke-width="0.7"/>
<line x1="409.9" y1="293.8" x2="433.7" y2="288.6" stroke="#000" stroke-width="0.8"/>
<line x1="412" y1="309.4" x2="447.2" y2="304.2" stroke="#000" stroke-width="0.8"/>
<path d="M390,285 L396,283 M402,300 L412,297 M421,290 L432,292 M429,268 L436,272" fill="none" stroke="#000" stroke-width="0.8" stroke-linejoin="round" />
<path d="M393,227 L401,225.5 M442,240 L453,239" fill="none" stroke="#000" stroke-width="0.8" stroke-linejoin="round" />
<rect x="418.9" y="278.5" width="1.5" height="1.6" fill="#000"/>
<path d="M428.4,238.5 A2.2,2.2 0 0 1 429,242.5" fill="none" stroke="#000" stroke-width="1.0"/>
<rect x="398.4" y="276.4" width="1.6" height="1.7" fill="#000"/>
<path d="M413.5,266.2 A2.2,2.2 0 1 1 414,269.7" fill="none" stroke="#000" stroke-width="0.8"/>
<line x1="392.9" y1="241.2" x2="396.3" y2="241.8" stroke="#444" stroke-width="1.0"/>
<path d="M443.6,272.7 A2,2 0 1 1 445.2,276.3" fill="none" stroke="#000" stroke-width="1.0"/>
<rect x="415.8" y="277.7" width="1.1" height="1.3" fill="#000"/>
<line x1="439" y1="273.8" x2="436.9" y2="272.9" stroke="#222" stroke-width="0.8"/>
<path d="M400.6,315.6 A2.8,2.8 0 0 1 402.8,311.2" fill="none" stroke="#000" stroke-width="1.2"/>
<line x1="402.1" y1="290.2" x2="401.3" y2="292.1" stroke="#000" stroke-width="1.0"/>
<line x1="397.9" y1="293.4" x2="394.5" y2="294.2" stroke="#444" stroke-width="1.2"/>
<rect x="401.4" y="273.4" width="1.8" height="1.5" fill="#000"/>
<rect x="414.3" y="261.9" width="1" height="2" fill="#000"/>
<rect x="453.3" y="281.9" width="1" height="1.2" fill="#000"/>
<path d="M455.5,283.8 A1.3,1.3 0 1 1 454.2,281.7" fill="none" stroke="#000" stroke-width="0.8"/>
<line x1="440" y1="255.2" x2="442" y2="256.2" stroke="#444" stroke-width="1.2"/>
<line x1="405" y1="282.7" x2="400.4" y2="284.1" stroke="#444" stroke-width="1.0"/>
<path d="M398.2,262.7 A1.7,1.7 0 1 1 398.9,259.6" fill="none" stroke="#000" stroke-width="1.2"/>
<rect x="401.5" y="296.7" width="1.2" height="2.1" fill="#000"/>
<line x1="447.2" y1="283" x2="448.9" y2="284.2" stroke="#000" stroke-width="1.0"/>
<line x1="437.8" y1="261.6" x2="440.7" y2="259.6" stroke="#000" stroke-width="1.2"/>
<path d="M399.3,271.4 A2.2,2.2 0 0 1 395.2,270.5" fill="none" stroke="#000" stroke-width="0.8"/>
<line x1="438.4" y1="229" x2="438.4" y2="231.1" stroke="#222" stroke-width="1.0"/>
<path d="M394.9,234.3 A1.7,1.7 0 1 1 394.5,237.6" fill="none" stroke="#000" stroke-width="0.8"/>
<line x1="420.3" y1="258.1" x2="424" y2="258.9" stroke="#222" stroke-width="0.8"/>
<line x1="393.4" y1="253.4" x2="396.5" y2="254.9" stroke="#444" stroke-width="1.0"/>
<path d="M393.3,316.2 A1.4,1.4 0 0 1 390.6,317" fill="none" stroke="#000" stroke-width="0.8"/>
<path d="M444.2,263 A2.6,2.6 0 1 1 447.5,266.5" fill="none" stroke="#000" stroke-width="1.0"/>
<line x1="396.6" y1="248" x2="394.3" y2="252.2" stroke="#444" stroke-width="1.2"/>
<path d="M417.2,268.5 A2,2 0 0 1 421.2,268.5" fill="none" stroke="#000" stroke-width="0.8"/>
<path d="M419.2,243.9 A2,2 0 1 1 419.4,246.7" fill="none" stroke="#000" stroke-width="1.0"/>
<line x1="448.2" y1="259.2" x2="445.4" y2="256.9" stroke="#444" stroke-width="1.0"/>
<line x1="450.4" y1="272.3" x2="448.1" y2="273.9" stroke="#222" stroke-width="1.2"/>
<line x1="442" y1="298.2" x2="442.6" y2="300.8" stroke="#000" stroke-width="1.0"/>
<rect x="398" y="272.1" width="1.8" height="1.9" fill="#000"/>
<line x1="451.7" y1="250" x2="449" y2="250.8" stroke="#222" stroke-width="0.8"/>
<path d="M415.5,272.5 A2.3,2.3 0 1 1 412,275.1" fill="none" stroke="#000" stroke-width="1.0"/>
<path d="M445.8,228.2 A2.1,2.1 0 1 1 448.7,226.3" fill="none" stroke="#000" stroke-width="0.8"/>
<line x1="431.3" y1="262.9" x2="431.6" y2="260.1" stroke="#000" stroke-width="0.8"/>
<line x1="453.9" y1="233.6" x2="450.1" y2="232.8" stroke="#000" stroke-width="1.0"/>
<path d="M435.7,242.2 A1.5,1.5 0 1 1 432.8,241.6" fill="none" stroke="#000" stroke-width="1.2"/>
<path d="M393.3,244.2 A2.1,2.1 0 1 1 389.3,244.8" fill="none" stroke="#000" stroke-width="0.8"/>
<rect x="415" y="302" width="1.1" height="2.1" fill="#000"/>
<path d="M438.5,233.9 A2.2,2.2 0 0 1 434.8,236.3" fill="none" stroke="#000" stroke-width="1.2"/>
<rect x="432.1" y="272.8" width="1.3" height="1.4" fill="#000"/>
<rect x="453.8" y="232" width="1.8" height="2.1" fill="#000"/>
<line x1="397.1" y1="246.5" x2="399.6" y2="248" stroke="#222" stroke-width="1.0"/>
<path d="M420,277.9 A2,2 0 1 1 417.9,275.6" fill="none" stroke="#000" stroke-width="0.8"/>
<rect x="424.2" y="291.3" width="1.5" height="2.2" fill="#000"/>
<path d="M449.8,273 A1.9,1.9 0 1 1 446.6,274.6" fill="none" stroke="#000" stroke-width="1.2"/>
<path d="M394.5,242.7 A1.7,1.7 0 1 1 393.7,245.7" fill="none" stroke="#000" stroke-width="1.2"/>
<rect x="405.9" y="289.8" width="1.9" height="1.7" fill="#000"/>
<path d="M407.5,236.3 A1.6,1.6 0 1 1 410.7,236.4" fill="none" stroke="#000" stroke-width="0.8"/>
<line x1="422.2" y1="283.1" x2="425.7" y2="282.4" stroke="#444" stroke-width="1.0"/>
<path d="M444,279.8 A2.3,2.3 0 1 1 440.4,277.1" fill="none" stroke="#000" stroke-width="1.0"/>
<line x1="449.8" y1="302.8" x2="449.9" y2="306.3" stroke="#222" stroke-width="1.0"/>
<line x1="449.7" y1="275" x2="447.9" y2="276" stroke="#000" stroke-width="1.0"/>
<line x1="391.4" y1="237.7" x2="390.5" y2="241.8" stroke="#444" stroke-width="0.8"/>
<path d="M420.1,270.7 A2.6,2.6 0 1 1 421.4,275" fill="none" stroke="#000" stroke-width="1.2"/>
<line x1="424" y1="266.1" x2="420.9" y2="268" stroke="#444" stroke-width="0.8"/>
<path d="M403.7,284.1 A2,2 0 1 1 400.5,286.3" fill="none" stroke="#000" stroke-width="0.8"/>
<rect x="404.4" y="296.8" width="1.9" height="1.4" fill="#000"/>
<line x1="447.6" y1="235.5" x2="447.2" y2="232.8" stroke="#222" stroke-width="0.8"/>
<path d="M442.8,265.4 A1.4,1.4 0 1 1 445.3,265" fill="none" stroke="#000" stroke-width="0.8"/>
<line x1="395.3" y1="279.6" x2="396.7" y2="276.8" stroke="#444" stroke-width="1.2"/>
<rect x="430.9" y="256.7" width="1.8" height="2" fill="#000"/>
<rect x="439.3" y="283.9" width="1.5" height="1.2" fill="#000"/>
<line x1="396.6" y1="239.4" x2="395.8" y2="243.4" stroke="#000" stroke-width="1.2"/>
<line x1="397.9" y1="290.8" x2="400.5" y2="292.6" stroke="#444" stroke-width="1.0"/>
<line x1="412.4" y1="243.2" x2="411" y2="241.6" stroke="#000" stroke-width="0.8"/>
<line x1="415.9" y1="258.3" x2="419.3" y2="256.5" stroke="#444" stroke-width="0.8"/>
<line x1="441.3" y1="254.7" x2="443.8" y2="250.8" stroke="#222" stroke-width="1.2"/>
<path d="M426.7,239.5 A1.7,1.7 0 0 1 427,243" fill="none" stroke="#000" stroke-width="0.8"/>
<rect x="438.1" y="300.6" width="1.4" height="2.1" fill="#000"/>
<path d="M445.1,293.5 A2.4,2.4 0 1 1 449.3,293.2" fill="none" stroke="#000" stroke-width="0.8"/>
<line x1="441.6" y1="252.5" x2="445.4" y2="249.2" stroke="#000" stroke-width="1.2"/>
<path d="M430.9,255.7 A2.1,2.1 0 1 1 435,256.6" fill="none" stroke="#000" stroke-width="1.0"/>
<path d="M434.1,293.2 A2.8,2.8 0 1 1 429.6,290.8" fill="none" stroke="#000" stroke-width="1.2"/>
<path d="M403.2,264.9 A2.4,2.4 0 0 1 407,266.4" fill="none" stroke="#000" stroke-width="1.0"/>
<path d="M407.5,313.1 A2,2 0 1 1 403.7,312.8" fill="none" stroke="#000" stroke-width="0.8"/>
<line x1="431.1" y1="303.8" x2="427.6" y2="301.3" stroke="#222" stroke-width="0.8"/>
<path d="M448.9,238.2 A1.5,1.5 0 1 1 451.5,239.1" fill="none" stroke="#000" stroke-width="0.8"/>
<line x1="417.4" y1="271.9" x2="415" y2="273.7" stroke="#222" stroke-width="1.2"/>
<rect x="420.9" y="249.2" width="1.7" height="1.9" fill="#000"/>
<path d="M388.9,301.2 A2.2,2.2 0 1 1 392.9,300.8" fill="none" stroke="#000" stroke-width="0.8"/>
<line x1="448.2" y1="297.6" x2="453.1" y2="297.2" stroke="#000" stroke-width="0.8"/>
<rect x="417.3" y="270.2" width="1.2" height="1.6" fill="#000"/>
<path d="M452,292.5 A2.8,2.8 0 1 1 448.4,296.3" fill="none" stroke="#000" stroke-width="0.8"/>
<line x1="392.3" y1="264.1" x2="394.3" y2="261.8" stroke="#000" stroke-width="0.8"/>
<line x1="413" y1="236.1" x2="409.8" y2="233.8" stroke="#222" stroke-width="1.2"/>
<rect x="413" y="297.1" width="1.1" height="1.3" fill="#000"/>
<path d="M395.8,270.5 A1.7,1.7 0 1 1 397.7,272.3" fill="none" stroke="#000" stroke-width="1.0"/>
<path d="M405.5,289.6 A2.1,2.1 0 1 1 406.1,293.2" fill="none" stroke="#000" stroke-width="0.8"/>
<path d="M451.2,271.3 A1.5,1.5 0 1 1 451.3,274.2" fill="none" stroke="#000" stroke-width="0.8"/>
<path d="M405.6,264.6 A1.4,1.4 0 0 1 408,264.1" fill="none" stroke="#000" stroke-width="0.8"/>
<line x1="449.3" y1="238.2" x2="452.7" y2="237.8" stroke="#000" stroke-width="1.0"/>
<line x1="411.3" y1="271.9" x2="414.3" y2="268.7" stroke="#444" stroke-width="1.0"/>
<line x1="444.3" y1="299.7" x2="444.2" y2="296.5" stroke="#222" stroke-width="0.8"/>
<path d="M399.2,304.8 A1.7,1.7 0 1 1 397.5,306.8" fill="none" stroke="#000" stroke-width="0.8"/>
<line x1="417.2" y1="259.3" x2="418.8" y2="257.7" stroke="#222" stroke-width="0.8"/>
<path d="M426.5,269.3 A1.7,1.7 0 0 1 427.4,272.2" fill="none" stroke="#000" stroke-width="0.8"/>
<path d="M449.3,281 A2,2 0 0 1 449.2,285" fill="none" stroke="#000" stroke-width="0.8"/>
<line x1="403.4" y1="288.4" x2="405.9" y2="286.7" stroke="#444" stroke-width="1.0"/>
<path d="M431.7,250.9 A2.8,2.8 0 0 1 436.4,248.3" fill="none" stroke="#000" stroke-width="1.2"/>
<line x1="448.1" y1="247.1" x2="446" y2="249.4" stroke="#444" stroke-width="1.0"/>
<path d="M412.2,241.1 A2.5,2.5 0 1 1 414.5,244.2" fill="none" stroke="#000" stroke-width="1.2"/>
<rect x="419" y="308.3" width="1.2" height="1.1" fill="#000"/>
<line x1="399.5" y1="251.9" x2="401.2" y2="249.1" stroke="#444" stroke-width="1.2"/>
<line x1="409.2" y1="277.1" x2="408.8" y2="279.4" stroke="#000" stroke-width="1.0"/>
<line x1="390.7" y1="288" x2="392" y2="285" stroke="#000" stroke-width="1.2"/>
<line x1="411.3" y1="268.4" x2="412.4" y2="265.6" stroke="#222" stroke-width="0.8"/>
<line x1="421.2" y1="303.3" x2="419.6" y2="301.8" stroke="#222" stroke-width="1.2"/>
<rect x="445.3" y="303.4" width="1.9" height="2.1" fill="#000"/>
<path d="M429.1,276.1 A2.5,2.5 0 1 1 433.6,274" fill="none" stroke="#000" stroke-width="0.8"/>
<path d="M404.2,240.5 A2.3,2.3 0 1 1 406.3,236.3" fill="none" stroke="#000" stroke-width="1.2"/>
<line x1="392.9" y1="253.2" x2="390.3" y2="249.7" stroke="#000" stroke-width="0.8"/>
<line x1="420.8" y1="302.8" x2="421.7" y2="305.8" stroke="#000" stroke-width="1.2"/>
<path d="M430.1,268.5 A1.9,1.9 0 1 1 427,270.7" fill="none" stroke="#000" stroke-width="1.0"/>
<path d="M427.1,307.7 A1.8,1.8 0 1 1 423.8,307.2" fill="none" stroke="#000" stroke-width="0.8"/>
<line x1="420.9" y1="244.3" x2="425" y2="242.9" stroke="#444" stroke-width="1.0"/>
<path d="M442.6,299.6 A1.3,1.3 0 1 1 440.8,299.1" fill="none" stroke="#000" stroke-width="1.0"/>
<line x1="448.7" y1="267.5" x2="444.7" y2="269.6" stroke="#000" stroke-width="1.0"/>
<rect x="439.9" y="236.6" width="1.8" height="1.2" fill="#000"/>
<path d="M436.8,284 A1.3,1.3 0 0 1 439.2,284.4" fill="none" stroke="#000" stroke-width="0.8"/>
<line x1="443.3" y1="230.3" x2="442.8" y2="228.1" stroke="#444" stroke-width="1.0"/>
<line x1="427.7" y1="308.6" x2="428.5" y2="305.4" stroke="#000" stroke-width="1.2"/>
<line x1="440.6" y1="266.5" x2="437.6" y2="268.3" stroke="#222" stroke-width="1.0"/>
<path d="M408.5,267.6 A1.8,1.8 0 0 1 410.8,269.8" fill="none" stroke="#000" stroke-width="1.0"/>
<path d="M432.3,297.9 A1.4,1.4 0 1 1 434.2,298.7" fill="none" stroke="#000" stroke-width="1.2"/>
<path d="M437.8,246.1 A1.9,1.9 0 1 1 436.5,244.2" fill="none" stroke="#000" stroke-width="1.2"/>
<circle cx="409.7" cy="266.5" r="3.1" fill="none" stroke="#000" stroke-width="1.0"/>
<circle cx="409.7" cy="266.5" r="1.4" fill="#000" stroke="#000" stroke-width="0.7"/>
<circle cx="416.1" cy="264.1" r="2.5" fill="none" stroke="#000" stroke-width="0.9"/>
<circle cx="422.1" cy="264.5" r="2.4" fill="none" stroke="#000" stroke-width="0.9"/>
<circle cx="428.9" cy="263.4" r="2.5" fill="none" stroke="#000" stroke-width="1.0"/>
<circle cx="428.9" cy="263.4" r="1.1" fill="none" stroke="#000" stroke-width="0.7"/>
<circle cx="448.9" cy="261.4" r="2.5" fill="none" stroke="#000" stroke-width="1.0"/>
<circle cx="406.6" cy="272.4" r="2.9" fill="none" stroke="#000" stroke-width="1.0"/>
<circle cx="414.2" cy="271.4" r="2.3" fill="none" stroke="#000" stroke-width="1.2"/>
<circle cx="414.2" cy="271.4" r="1" fill="#000" stroke="#000" stroke-width="0.7"/>
<circle cx="418.9" cy="271.4" r="2.1" fill="none" stroke="#000" stroke-width="0.9"/>
<circle cx="425.5" cy="269.5" r="3.1" fill="none" stroke="#000" stroke-width="0.9"/>
<circle cx="433.1" cy="268.8" r="2.7" fill="none" stroke="#000" stroke-width="1.0"/>
<circle cx="403.7" cy="278.9" r="2.8" fill="none" stroke="#000" stroke-width="1.2"/>
<circle cx="403.7" cy="278.9" r="1.2" fill="none" stroke="#000" stroke-width="0.7"/>
<circle cx="416.2" cy="278.3" r="2.7" fill="none" stroke="#000" stroke-width="0.9"/>
<circle cx="429.6" cy="275" r="2.4" fill="none" stroke="#000" stroke-width="1.0"/>
<circle cx="435.5" cy="275.4" r="2" fill="none" stroke="#000" stroke-width="0.9"/>
<circle cx="441.2" cy="274.1" r="2.4" fill="none" stroke="#000" stroke-width="1.2"/>
<circle cx="441.2" cy="274.1" r="1.1" fill="none" stroke="#000" stroke-width="0.7"/>
<circle cx="448" cy="274" r="2.3" fill="none" stroke="#000" stroke-width="1.0"/>
<circle cx="448" cy="274" r="1.1" fill="#000" stroke="#000" stroke-width="0.7"/>
<circle cx="406.7" cy="285.1" r="2.1" fill="none" stroke="#000" stroke-width="1.2"/>
<circle cx="406.7" cy="285.1" r="1" fill="none" stroke="#000" stroke-width="0.7"/>
<circle cx="413.7" cy="283.4" r="3.2" fill="none" stroke="#000" stroke-width="0.9"/>
<circle cx="413.7" cy="283.4" r="1.5" fill="#000" stroke="#000" stroke-width="0.7"/>
<circle cx="438.6" cy="281.6" r="3" fill="none" stroke="#000" stroke-width="1.0"/>
<circle cx="445.2" cy="280.2" r="2.6" fill="none" stroke="#000" stroke-width="1.2"/>
<circle cx="451.6" cy="279.2" r="2.2" fill="none" stroke="#000" stroke-width="0.9"/>
<circle cx="391.7" cy="293.1" r="2.7" fill="none" stroke="#000" stroke-width="1.2"/>
<circle cx="391.7" cy="293.1" r="1.2" fill="none" stroke="#000" stroke-width="0.7"/>
<circle cx="398.1" cy="292.4" r="2.4" fill="none" stroke="#000" stroke-width="1.0"/>
<circle cx="404.5" cy="292.1" r="2.2" fill="none" stroke="#000" stroke-width="0.9"/>
<circle cx="404.5" cy="292.1" r="1" fill="#000" stroke="#000" stroke-width="0.7"/>
<circle cx="411" cy="291.4" r="2" fill="none" stroke="#000" stroke-width="1.2"/>
<circle cx="411" cy="291.4" r="0.9" fill="none" stroke="#000" stroke-width="0.7"/>
<circle cx="416.1" cy="289" r="2.1" fill="none" stroke="#000" stroke-width="1.2"/>
<circle cx="416.1" cy="289" r="0.9" fill="#000" stroke="#000" stroke-width="0.7"/>
<circle cx="422.5" cy="289.9" r="3" fill="none" stroke="#000" stroke-width="1.0"/>
<circle cx="422.5" cy="289.9" r="1.4" fill="#000" stroke="#000" stroke-width="0.7"/>
<circle cx="436.4" cy="288.4" r="3.1" fill="none" stroke="#000" stroke-width="0.9"/>
<circle cx="442.3" cy="286.6" r="2.3" fill="none" stroke="#000" stroke-width="1.2"/>
<circle cx="448.4" cy="286" r="2" fill="none" stroke="#000" stroke-width="0.9"/>
<circle cx="393.3" cy="298.1" r="2" fill="none" stroke="#000" stroke-width="1.2"/>
<circle cx="393.3" cy="298.1" r="0.9" fill="none" stroke="#000" stroke-width="0.7"/>
<circle cx="445.1" cy="292.8" r="2.5" fill="none" stroke="#000" stroke-width="1.2"/>
<circle cx="404.7" cy="304" r="2.2" fill="none" stroke="#000" stroke-width="1.2"/>
<circle cx="404.7" cy="304" r="1" fill="none" stroke="#000" stroke-width="0.7"/>
<circle cx="410.5" cy="303.7" r="2.1" fill="none" stroke="#000" stroke-width="1.2"/>
<circle cx="423.1" cy="301.8" r="2.5" fill="none" stroke="#000" stroke-width="0.9"/>
<circle cx="423.1" cy="301.8" r="1.1" fill="#000" stroke="#000" stroke-width="0.7"/>
<circle cx="428.5" cy="300.3" r="2.9" fill="none" stroke="#000" stroke-width="1.0"/>
<circle cx="436.4" cy="299.2" r="2.7" fill="none" stroke="#000" stroke-width="1.2"/>
<circle cx="436.4" cy="299.2" r="1.2" fill="#000" stroke="#000" stroke-width="0.7"/>
<circle cx="393.6" cy="311.1" r="3" fill="none" stroke="#000" stroke-width="1.0"/>
<circle cx="393.6" cy="311.1" r="1.3" fill="none" stroke="#000" stroke-width="0.7"/>
<circle cx="401.5" cy="310.7" r="2.5" fill="none" stroke="#000" stroke-width="0.9"/>
<circle cx="413.8" cy="309.6" r="2.7" fill="none" stroke="#000" stroke-width="1.0"/>
<circle cx="413.8" cy="309.6" r="1.2" fill="none" stroke="#000" stroke-width="0.7"/>
<circle cx="426.7" cy="308.4" r="2.6" fill="none" stroke="#000" stroke-width="1.2"/>
<circle cx="391.7" cy="318.3" r="3.3" fill="none" stroke="#000" stroke-width="0.9"/>
<circle cx="391.7" cy="318.3" r="1.5" fill="none" stroke="#000" stroke-width="0.7"/>
<circle cx="403.5" cy="316.3" r="2.2" fill="none" stroke="#000" stroke-width="1.2"/>
<polygon points="284,203 289.2,201.5 291.8,204.7 291.8,207.3 289.2,210.5 284,212" fill="#fff" stroke="none" stroke-width="0" stroke-linejoin="round"/>
<line x1="284" y1="203" x2="289.2" y2="201.5" stroke="#000" stroke-width="1.0"/>
<line x1="284" y1="212" x2="289.2" y2="210.5" stroke="#000" stroke-width="1.0"/>
<path d="M289.2,201.5 A2.5,4.5 0 0 1 289.2,210.5" fill="none" stroke="#000" stroke-width="1.0"/>
<ellipse cx="284" cy="207.5" rx="2.5" ry="4.5" fill="#fff" stroke="#000" stroke-width="1.0"/>
<polygon points="289.2,202.5 292,201.7 293.9,204.2 293.9,206.3 292,208.7 289.2,209.5" fill="#fff" stroke="none" stroke-width="0" stroke-linejoin="round"/>
<line x1="289.2" y1="202.5" x2="292" y2="201.7" stroke="#000" stroke-width="1.0"/>
<line x1="289.2" y1="209.5" x2="292" y2="208.7" stroke="#000" stroke-width="1.0"/>
<polygon points="292,200.7 297,199.3 299.5,202.4 299.5,205.1 297,208.3 292,209.7" fill="#fff" stroke="none" stroke-width="0" stroke-linejoin="round"/>
<line x1="292" y1="200.7" x2="297" y2="199.3" stroke="#000" stroke-width="1.0"/>
<line x1="292" y1="209.7" x2="297" y2="208.3" stroke="#000" stroke-width="1.0"/>
<path d="M297,199.3 A2.5,4.5 0 0 1 297,208.3" fill="none" stroke="#000" stroke-width="1.0"/>
<ellipse cx="292" cy="205.2" rx="2.5" ry="4.5" fill="#fff" stroke="#000" stroke-width="1.0"/>
<polygon points="297,200.3 299.1,199.7 301.1,202.1 301.1,204.2 299.1,206.7 297,207.3" fill="#fff" stroke="none" stroke-width="0" stroke-linejoin="round"/>
<line x1="297" y1="200.3" x2="299.1" y2="199.7" stroke="#000" stroke-width="1.0"/>
<line x1="297" y1="207.3" x2="299.1" y2="206.7" stroke="#000" stroke-width="1.0"/>
<polygon points="299.1,198.4 305,196.8 307.7,200.1 307.7,202.9 305,206.2 299.1,207.9" fill="#fff" stroke="none" stroke-width="0" stroke-linejoin="round"/>
<line x1="299.1" y1="198.4" x2="305" y2="196.8" stroke="#000" stroke-width="1.0"/>
<line x1="299.1" y1="207.9" x2="305" y2="206.2" stroke="#000" stroke-width="1.0"/>
<path d="M305,196.8 A2.7,4.8 0 0 1 305,206.2" fill="none" stroke="#000" stroke-width="1.0"/>
<ellipse cx="299.1" cy="203.2" rx="2.7" ry="4.8" fill="#fff" stroke="#000" stroke-width="1.0"/>
<ellipse cx="284" cy="207.5" rx="2.8" ry="4.5" fill="#fff" stroke="#000" stroke-width="1.1"/>
<polyline points="315.4,194.4 317.8,198.3 318,193.8 320.4,197.7 320.6,193.2 322.9,197.1 323.1,192.6 325.5,196.5 325.7,192 328.1,195.8 328.2,191.3 330.6,195.2 330.8,190.7 333.2,194.6 333.3,190.1 335.7,194 335.9,189.5 338.3,193.4 338.4,188.9" fill="none" stroke="#000" stroke-width="0.9" stroke-linejoin="round"/>
<polyline points="316.6,194.4 316.7,198.3 319.1,193.8 319.3,197.7 321.7,193.2 321.8,197.1 324.2,192.6 324.4,196.5 326.8,192 326.9,195.8 329.3,191.3 329.5,195.2 331.9,190.7 332.1,194.6 334.4,190.1 334.6,194 337,189.5 337.2,193.4 339.6,188.9" fill="none" stroke="#000" stroke-width="0.63" stroke-linejoin="round"/>
<line x1="316" y1="194.4" x2="339" y2="188.9" stroke="#000" stroke-width="0.7200000000000001"/>
<line x1="316" y1="198.6" x2="339" y2="193.1" stroke="#000" stroke-width="0.7200000000000001"/>
<ellipse cx="316" cy="196.5" rx="0.9" ry="2.1" fill="none" stroke="#000" stroke-width="0.9"/>
<ellipse cx="339" cy="191" rx="0.9" ry="2.1" fill="none" stroke="#000" stroke-width="0.9"/>
<path d="M207.5,269 L207,263 Q207.5,259 210.5,259 Q213,260 213,264 L214.5,271" fill="none" stroke="#000" stroke-width="1.2" stroke-linejoin="round" />
<path d="M208.5,266 L212,265" fill="none" stroke="#000" stroke-width="0.8" stroke-linejoin="round" />
<ellipse cx="219.5" cy="257.5" rx="2.5" ry="3.3" fill="#fff" stroke="#000" stroke-width="1.1"/>
<circle cx="219.5" cy="257.5" r="0.9" fill="#000" stroke="#000" stroke-width="0.6"/>
<path d="M188.5,263.5 L192,262.5 L193,266 L189.5,267.3 Z" fill="none" stroke="#000" stroke-width="1.1" stroke-linejoin="round" />
<path d="M193,263 L197.5,262 L197.7,265 L193.2,266" fill="#000" stroke="#000" stroke-width="1.1" stroke-linejoin="round" />
<path d="M271,279 Q270,284 272,288 M274.5,278 Q276,283 274,289 M271,283 L275,283" fill="none" stroke="#000" stroke-width="1.0" stroke-linejoin="round" />
<ellipse cx="273.3" cy="286.5" rx="1.6" ry="2.2" fill="#fff" stroke="#000" stroke-width="0.9"/>
<path d="M255,281.5 L259,280.5 L259.5,286 L255.5,287 Z" fill="none" stroke="#000" stroke-width="1.1" stroke-linejoin="round" />
<ellipse cx="255.3" cy="284.3" rx="1.2" ry="2.7" fill="#fff" stroke="#000" stroke-width="1.0"/>
<path d="M259,281 L262.5,280.5 L262.7,285 L259.3,285.7" fill="#fff" stroke="#000" stroke-width="1.1" stroke-linejoin="round" />
<line x1="260.8" y1="280.8" x2="261" y2="285.4" stroke="#000" stroke-width="1.2"/>
<path d="M287.5,277 L291.5,276.5 L292,280 L288,280.5 Z" fill="#333" stroke="#000" stroke-width="1.2" stroke-linejoin="round" />
<polyline points="294.5,275.4 296.9,278.2 297.4,274.6 299.7,277.5 300.2,273.9 302.5,276.7 303,273.1 305.4,276 305.9,272.4 308.2,275.2 308.7,271.6 311,274.5 311.5,270.9" fill="none" stroke="#000" stroke-width="0.8" stroke-linejoin="round"/>
<polyline points="295.5,275.4 296,278.2 298.3,274.6 298.8,277.5 301.1,273.9 301.6,276.7 304,273.1 304.5,276 306.8,272.4 307.3,275.2 309.6,271.6 310.1,274.5 312.5,270.9" fill="none" stroke="#000" stroke-width="0.5599999999999999" stroke-linejoin="round"/>
<line x1="295" y1="275.4" x2="312" y2="270.9" stroke="#000" stroke-width="0.6400000000000001"/>
<line x1="295" y1="278.6" x2="312" y2="274.1" stroke="#000" stroke-width="0.6400000000000001"/>
<ellipse cx="295" cy="277" rx="0.7" ry="1.6" fill="none" stroke="#000" stroke-width="0.8"/>
<ellipse cx="312" cy="272.5" rx="0.7" ry="1.6" fill="none" stroke="#000" stroke-width="0.8"/>
<polygon points="320.5,265.8 323.7,264.9 325.5,267.1 325.5,269.1 323.7,271.4 320.5,272.2" fill="#fff" stroke="none" stroke-width="0" stroke-linejoin="round"/>
<line x1="320.5" y1="265.8" x2="323.7" y2="264.9" stroke="#000" stroke-width="1.0"/>
<line x1="320.5" y1="272.2" x2="323.7" y2="271.4" stroke="#000" stroke-width="1.0"/>
<path d="M323.7,264.9 A1.8,3.2 0 0 1 323.7,271.4" fill="none" stroke="#000" stroke-width="1.0"/>
<ellipse cx="320.5" cy="269" rx="1.8" ry="3.2" fill="#fff" stroke="#000" stroke-width="1.0"/>
<polygon points="323.7,265.4 336.6,261.8 338.2,263.7 338.2,265.3 336.6,267.2 323.7,270.9" fill="#fff" stroke="none" stroke-width="0" stroke-linejoin="round"/>
<line x1="323.7" y1="265.4" x2="336.6" y2="261.8" stroke="#000" stroke-width="1.0"/>
<line x1="323.7" y1="270.9" x2="336.6" y2="267.2" stroke="#000" stroke-width="1.0"/>
<polygon points="336.6,261.5 342,260 343.7,262.1 343.7,263.9 342,266 336.6,267.5" fill="#fff" stroke="none" stroke-width="0" stroke-linejoin="round"/>
<line x1="336.6" y1="261.5" x2="342" y2="260" stroke="#000" stroke-width="1.0"/>
<line x1="336.6" y1="267.5" x2="342" y2="266" stroke="#000" stroke-width="1.0"/>
<path d="M342,260 A1.7,3 0 0 1 342,266" fill="none" stroke="#000" stroke-width="1.0"/>
<ellipse cx="336.6" cy="264.5" rx="1.7" ry="3" fill="#fff" stroke="#000" stroke-width="1.0"/>
<ellipse cx="320.5" cy="269" rx="1.8" ry="3.2" fill="#000" stroke="#000" stroke-width="1.3"/>
<circle cx="336.5" cy="264.5" r="1.4" fill="#fff" stroke="#000" stroke-width="0.9"/>
<path d="M198,286 Q203,283.2 210,283.3 Q214,284.5 215.5,290 Q215.8,296 213,298.5 Q208,301 200,300.6 Z" fill="none" stroke="#000" stroke-width="1.1" stroke-linejoin="round" />
<ellipse cx="199" cy="293.3" rx="5" ry="7.1" fill="#fff" stroke="#000" stroke-width="1.3"/>
<path d="M195.5,289 L195.5,298 M198.5,287.5 L198.5,299.5 M201.5,288 L201.5,299" fill="none" stroke="#111" stroke-width="1.2" stroke-linejoin="round" />
<path d="M194.5,292 Q196,289 197,293 Q197,297 195,296" fill="none" stroke="#000" stroke-width="1.0" stroke-linejoin="round" />
<path d="M213,285.5 L216.5,283.8 L219.5,285 L220.3,288.5 L219,291.5 L215.5,292.8 L213.5,291 Z" fill="#fff" stroke="#000" stroke-width="1.3" stroke-linejoin="round" />
<line x1="215" y1="285" x2="215.5" y2="292" stroke="#000" stroke-width="1.0"/>
<line x1="217.5" y1="284.5" x2="218" y2="291.5" stroke="#000" stroke-width="1.0"/>
<circle cx="216.8" cy="287.8" r="1.1" fill="#ddd" stroke="#888" stroke-width="0.5"/>
<line x1="205" y1="286.5" x2="207.5" y2="285" stroke="#000" stroke-width="1.0"/>
<polygon points="256.5,324.2 260.8,323 262.6,325.2 262.6,327.2 260.8,329.5 256.5,330.8" fill="#fff" stroke="none" stroke-width="0" stroke-linejoin="round"/>
<line x1="256.5" y1="324.2" x2="260.8" y2="323" stroke="#000" stroke-width="1.0"/>
<line x1="256.5" y1="330.8" x2="260.8" y2="329.5" stroke="#000" stroke-width="1.0"/>
<ellipse cx="256.5" cy="327.5" rx="1.8" ry="3.2" fill="#fff" stroke="#000" stroke-width="1.0"/>
<polygon points="260.8,322.2 266.9,320.4 269.1,323.2 269.1,325.6 266.9,328.4 260.8,330.2" fill="#fff" stroke="none" stroke-width="0" stroke-linejoin="round"/>
<line x1="260.8" y1="322.2" x2="266.9" y2="320.4" stroke="#000" stroke-width="1.0"/>
<line x1="260.8" y1="330.2" x2="266.9" y2="328.4" stroke="#000" stroke-width="1.0"/>
<path d="M266.9,320.4 A2.2,4 0 0 1 266.9,328.4" fill="none" stroke="#000" stroke-width="1.0"/>
<ellipse cx="260.8" cy="326.2" rx="2.2" ry="4" fill="#fff" stroke="#000" stroke-width="1.0"/>
<polygon points="266.9,321.1 269.3,320.4 271.1,322.7 271.1,324.6 269.3,326.9 266.9,327.6" fill="#fff" stroke="none" stroke-width="0" stroke-linejoin="round"/>
<line x1="266.9" y1="321.1" x2="269.3" y2="320.4" stroke="#000" stroke-width="1.0"/>
<line x1="266.9" y1="327.6" x2="269.3" y2="326.9" stroke="#000" stroke-width="1.0"/>
<polygon points="269.3,319.6 275.4,317.8 277.7,320.6 277.7,323 275.4,325.8 269.3,327.6" fill="#fff" stroke="none" stroke-width="0" stroke-linejoin="round"/>
<line x1="269.3" y1="319.6" x2="275.4" y2="317.8" stroke="#000" stroke-width="1.0"/>
<line x1="269.3" y1="327.6" x2="275.4" y2="325.8" stroke="#000" stroke-width="1.0"/>
<path d="M275.4,317.8 A2.2,4 0 0 1 275.4,325.8" fill="none" stroke="#000" stroke-width="1.0"/>
<ellipse cx="269.3" cy="323.6" rx="2.2" ry="4" fill="#fff" stroke="#000" stroke-width="1.0"/>
<polygon points="275.4,318.5 277.9,317.8 279.7,320.1 279.7,322 277.9,324.3 275.4,325" fill="#fff" stroke="none" stroke-width="0" stroke-linejoin="round"/>
<line x1="275.4" y1="318.5" x2="277.9" y2="317.8" stroke="#000" stroke-width="1.0"/>
<line x1="275.4" y1="325" x2="277.9" y2="324.3" stroke="#000" stroke-width="1.0"/>
<polygon points="277.9,317.2 287,314.4 289.2,317.1 289.2,319.5 287,322.2 277.9,325" fill="#fff" stroke="none" stroke-width="0" stroke-linejoin="round"/>
<line x1="277.9" y1="317.2" x2="287" y2="314.4" stroke="#000" stroke-width="1.0"/>
<line x1="277.9" y1="325" x2="287" y2="322.2" stroke="#000" stroke-width="1.0"/>
<path d="M287,314.4 A2.2,3.9 0 0 1 287,322.2" fill="none" stroke="#000" stroke-width="1.0"/>
<ellipse cx="277.9" cy="321.1" rx="2.2" ry="3.9" fill="#fff" stroke="#000" stroke-width="1.0"/>
<ellipse cx="256.5" cy="327.5" rx="2" ry="3.3" fill="#fff" stroke="#000" stroke-width="1.3"/>
<line x1="262.6" y1="322.2" x2="263.4" y2="329.2" stroke="#000" stroke-width="1.4"/>
<line x1="271.8" y1="319.4" x2="272.6" y2="326.4" stroke="#000" stroke-width="1.4"/>
<line x1="280.9" y1="316.6" x2="281.7" y2="323.6" stroke="#000" stroke-width="1.4"/>
<polyline points="293.5,314.7 296,317.9 296.4,313.8 298.8,317 299.2,312.9 301.7,316.1 302.1,312.1 304.6,315.2 305,311.2 307.5,314.4 307.9,310.3 310.3,313.5 310.7,309.4 313.2,312.6 313.6,308.6 316.1,311.7 316.5,307.7" fill="none" stroke="#000" stroke-width="0.75" stroke-linejoin="round"/>
<polyline points="294.5,314.7 294.9,317.9 297.4,313.8 297.8,317 300.3,312.9 300.7,316.1 303.1,312.1 303.5,315.2 306,311.2 306.4,314.4 308.9,310.3 309.3,313.5 311.8,309.4 312.2,312.6 314.6,308.6 315,311.7 317.5,307.7" fill="none" stroke="#000" stroke-width="0.5249999999999999" stroke-linejoin="round"/>
<line x1="294" y1="314.7" x2="317" y2="307.7" stroke="#000" stroke-width="0.6000000000000001"/>
<line x1="294" y1="318.3" x2="317" y2="311.3" stroke="#000" stroke-width="0.6000000000000001"/>
<ellipse cx="294" cy="316.5" rx="0.8" ry="1.8" fill="none" stroke="#000" stroke-width="0.75"/>
<ellipse cx="317" cy="309.5" rx="0.8" ry="1.8" fill="none" stroke="#000" stroke-width="0.75"/>
<polygon points="326.5,378.6 334.8,375.9 336.9,378.6 336.9,380.9 334.8,383.6 326.5,386.4" fill="#fff" stroke="none" stroke-width="0" stroke-linejoin="round"/>
<line x1="326.5" y1="378.6" x2="334.8" y2="375.9" stroke="#000" stroke-width="1.0"/>
<line x1="326.5" y1="386.4" x2="334.8" y2="383.6" stroke="#000" stroke-width="1.0"/>
<path d="M334.8,375.9 A2.2,3.9 0 0 1 334.8,383.6" fill="none" stroke="#000" stroke-width="1.0"/>
<ellipse cx="326.5" cy="382.5" rx="2.2" ry="3.9" fill="#fff" stroke="#000" stroke-width="1.0"/>
<polygon points="334.8,376.5 336.7,375.8 338.6,378.1 338.6,380.1 336.7,382.3 334.8,383" fill="#fff" stroke="none" stroke-width="0" stroke-linejoin="round"/>
<line x1="334.8" y1="376.5" x2="336.7" y2="375.8" stroke="#000" stroke-width="1.0"/>
<line x1="334.8" y1="383" x2="336.7" y2="382.3" stroke="#000" stroke-width="1.0"/>
<polygon points="336.7,375 343,372.9 345.3,375.8 345.3,378.2 343,381.1 336.7,383.2" fill="#fff" stroke="none" stroke-width="0" stroke-linejoin="round"/>
<line x1="336.7" y1="375" x2="343" y2="372.9" stroke="#000" stroke-width="1.0"/>
<line x1="336.7" y1="383.2" x2="343" y2="381.1" stroke="#000" stroke-width="1.0"/>
<path d="M343,372.9 A2.3,4.1 0 0 1 343,381.1" fill="none" stroke="#000" stroke-width="1.0"/>
<ellipse cx="336.7" cy="379.1" rx="2.3" ry="4.1" fill="#fff" stroke="#000" stroke-width="1.0"/>
<ellipse cx="326.5" cy="382.5" rx="2.3" ry="3.9" fill="#fff" stroke="#000" stroke-width="1.6"/>
<ellipse cx="338" cy="378.8" rx="1.8" ry="4" fill="#fff" stroke="#000" stroke-width="1.5"/>
<line x1="330" y1="381" x2="331" y2="380.7" stroke="#666" stroke-width="0.6"/>
<line x1="333" y1="383" x2="334" y2="382.7" stroke="#666" stroke-width="0.6"/>
<line x1="331" y1="378.5" x2="332" y2="378.2" stroke="#666" stroke-width="0.6"/>
<polyline points="296,388.8 298.4,391.8 298.9,388 301.3,391 301.8,387.2 304.2,390.2 304.6,386.4 307.1,389.4 307.5,385.6 309.9,388.5 310.4,384.7 312.8,387.7 313.3,383.9 315.7,386.9 316.1,383.1 318.6,386.1 319,382.3" fill="none" stroke="#000" stroke-width="0.65" stroke-linejoin="round"/>
<polyline points="297,388.8 297.4,391.8 299.9,388 300.3,391 302.7,387.2 303.2,390.2 305.6,386.4 306.1,389.4 308.5,385.6 308.9,388.5 311.4,384.7 311.8,387.7 314.2,383.9 314.7,386.9 317.1,383.1 317.6,386.1 320,382.3" fill="none" stroke="#000" stroke-width="0.45499999999999996" stroke-linejoin="round"/>
<line x1="296.5" y1="388.8" x2="319.5" y2="382.3" stroke="#000" stroke-width="0.52"/>
<line x1="296.5" y1="392.2" x2="319.5" y2="385.7" stroke="#000" stroke-width="0.52"/>
<ellipse cx="296.5" cy="390.5" rx="0.7" ry="1.7" fill="none" stroke="#000" stroke-width="0.65"/>
<ellipse cx="319.5" cy="384" rx="0.7" ry="1.7" fill="none" stroke="#000" stroke-width="0.65"/>
<path d="M278.5,385.5 L281.5,383.5 L283,386.5 L288.5,388 L289,396.5 L285.5,397.2 L284,394.5 L279.5,395.8 L278.2,391.5 L280.5,390 Z" fill="none" stroke="#000" stroke-width="1.0" stroke-linejoin="round" />
<line x1="283" y1="386.5" x2="283.5" y2="394.5" stroke="#000" stroke-width="0.8"/>
<circle cx="281" cy="390.5" r="0.8" fill="#fff" stroke="#000" stroke-width="0.6"/>
<line x1="285.5" y1="391" x2="288.5" y2="391.5" stroke="#000" stroke-width="0.7"/>
<polyline points="249,401.2 251.7,404.3 252.3,400.3 254.9,403.4 255.6,399.3 258.2,402.5 258.8,398.4 261.5,401.6 262.1,397.5 264.8,400.6 265.4,396.6 268.1,399.7 268.7,395.6 271.4,398.8 272,394.7" fill="none" stroke="#000" stroke-width="0.7" stroke-linejoin="round"/>
<polyline points="250,401.2 250.6,404.3 253.3,400.3 253.9,403.4 256.6,399.3 257.2,402.5 259.9,398.4 260.5,401.6 263.2,397.5 263.8,400.6 266.4,396.6 267.1,399.7 269.7,395.6 270.3,398.8 273,394.7" fill="none" stroke="#000" stroke-width="0.48999999999999994" stroke-linejoin="round"/>
<line x1="249.5" y1="401.2" x2="272.5" y2="394.7" stroke="#000" stroke-width="0.5599999999999999"/>
<line x1="249.5" y1="404.8" x2="272.5" y2="398.3" stroke="#000" stroke-width="0.5599999999999999"/>
<ellipse cx="249.5" cy="403" rx="0.8" ry="1.8" fill="none" stroke="#000" stroke-width="0.7"/>
<ellipse cx="272.5" cy="396.5" rx="0.8" ry="1.8" fill="none" stroke="#000" stroke-width="0.7"/>
<path d="M232,404 L243,401 Q246,402 246,406 L245.5,409.5 L233,412 Z" fill="none" stroke="#000" stroke-width="1.0" stroke-linejoin="round" />
<line x1="237" y1="403" x2="237.5" y2="411" stroke="#000" stroke-width="0.8"/>
<path d="M226,406 L231,404.5 L232,412 L227,413 Q224.5,412 224.5,409.5 Q224.5,407 226,406 Z" fill="none" stroke="#000" stroke-width="1.0" stroke-linejoin="round" />
<circle cx="228" cy="408.5" r="1.2" fill="#fff" stroke="#000" stroke-width="0.7"/>
<path d="M116.3,292 Q116.3,284.8 119.5,284 L135.9,280 Q137,274.5 142,273.2 Q147,273 150.5,277.5 Q154,282 155.2,293 L155.4,388 Q154.5,393 149,393.8 L123.5,396.2 Q117.8,395.8 117.2,388 Z" fill="none" stroke="#000" stroke-width="1.2" stroke-linejoin="round" />
<rect x="118.2" y="300" width="2.8" height="88" fill="#bbb"/>
<rect x="126" y="296" width="2.3" height="94" fill="#ccc"/>
<rect x="152.5" y="292" width="2.5" height="96" fill="#c8c8c8"/>
<line x1="118.4" y1="289" x2="118.4" y2="389" stroke="#000" stroke-width="1.0"/>
<line x1="121.1" y1="290" x2="121.1" y2="391" stroke="#000" stroke-width="1.0"/>
<line x1="126" y1="294" x2="126" y2="392" stroke="#000" stroke-width="1.0"/>
<line x1="128.4" y1="296" x2="128.4" y2="392" stroke="#000" stroke-width="1.0"/>
<line x1="148.5" y1="287" x2="148.5" y2="389" stroke="#000" stroke-width="0.9"/>
<line x1="150.6" y1="286" x2="150.6" y2="389" stroke="#000" stroke-width="1.0"/>
<line x1="152.6" y1="290" x2="152.6" y2="389" stroke="#000" stroke-width="1.0"/>
<path d="M119,290 Q119.5,286.8 123,286.5 L143.5,283" fill="none" stroke="#000" stroke-width="0.9" stroke-linejoin="round" />
<path d="M121.2,291 Q124,289 126,292" fill="none" stroke="#000" stroke-width="0.8" stroke-linejoin="round" />
<path d="M142.5,276.6 Q148,278.5 150.6,285.3" fill="none" stroke="#000" stroke-width="0.9" stroke-linejoin="round" />
<path d="M128.5,291.5 L147.5,287.5" fill="none" stroke="#000" stroke-width="0.8" stroke-linejoin="round" />
<line x1="126" y1="287" x2="146" y2="283" stroke="#555" stroke-width="0.6" stroke-dasharray="1.5,1.2"/>
<line x1="126.6" y1="288.8" x2="145.5" y2="284.8" stroke="#555" stroke-width="0.6" stroke-dasharray="1.5,1.2"/>
<line x1="127.2" y1="290.6" x2="145" y2="286.6" stroke="#555" stroke-width="0.6" stroke-dasharray="1.5,1.2"/>
<line x1="127.8" y1="292.4" x2="144.5" y2="288.4" stroke="#555" stroke-width="0.6" stroke-dasharray="1.5,1.2"/>
<circle cx="139.5" cy="277.8" r="1.2" fill="#fff" stroke="#000" stroke-width="0.8"/>
<line x1="136.8" y1="287.7" x2="138.5" y2="287" stroke="#333" stroke-width="0.6"/>
<line x1="134.4" y1="289.5" x2="136.8" y2="289.2" stroke="#888" stroke-width="0.6"/>
<line x1="141.3" y1="292.7" x2="143.1" y2="291.9" stroke="#888" stroke-width="0.6"/>
<line x1="136" y1="284.5" x2="137.6" y2="284.4" stroke="#888" stroke-width="0.6"/>
<line x1="129.2" y1="293.8" x2="131.9" y2="293.1" stroke="#666" stroke-width="0.6"/>
<line x1="131.9" y1="286" x2="134.6" y2="285.3" stroke="#666" stroke-width="0.6"/>
<line x1="145.3" y1="286.7" x2="147.3" y2="286.7" stroke="#888" stroke-width="0.6"/>
<line x1="144.8" y1="294.5" x2="146.4" y2="294.2" stroke="#666" stroke-width="0.6"/>
<line x1="130.6" y1="286.4" x2="133.2" y2="285.7" stroke="#888" stroke-width="0.6"/>
<line x1="128.1" y1="295.2" x2="129.9" y2="294.5" stroke="#666" stroke-width="0.6"/>
<line x1="128.2" y1="284.3" x2="130.5" y2="284.3" stroke="#333" stroke-width="0.6"/>
<line x1="138.9" y1="290" x2="140.7" y2="289.9" stroke="#333" stroke-width="0.6"/>
<line x1="140.1" y1="282.7" x2="142.5" y2="282.5" stroke="#888" stroke-width="0.6"/>
<line x1="141.7" y1="281.6" x2="143.6" y2="281.1" stroke="#333" stroke-width="0.6"/>
<line x1="142.2" y1="292.7" x2="144.5" y2="292.6" stroke="#888" stroke-width="0.6"/>
<line x1="135.6" y1="296.4" x2="137.4" y2="295.9" stroke="#888" stroke-width="0.6"/>
<line x1="135" y1="292.7" x2="137.3" y2="292.1" stroke="#333" stroke-width="0.6"/>
<line x1="144.5" y1="282.3" x2="147.3" y2="282" stroke="#333" stroke-width="0.6"/>
<line x1="135.6" y1="297.6" x2="138" y2="297.6" stroke="#888" stroke-width="0.6"/>
<line x1="134.2" y1="289" x2="136.1" y2="288.6" stroke="#666" stroke-width="0.6"/>
<line x1="143.5" y1="285.6" x2="145.4" y2="285.2" stroke="#333" stroke-width="0.6"/>
<line x1="128.5" y1="295.4" x2="131.2" y2="295" stroke="#888" stroke-width="0.6"/>
<line x1="142.8" y1="289.8" x2="144.4" y2="289.3" stroke="#333" stroke-width="0.6"/>
<line x1="146.3" y1="286.7" x2="148.4" y2="286" stroke="#666" stroke-width="0.6"/>
<line x1="130.6" y1="287.2" x2="133.2" y2="286.5" stroke="#333" stroke-width="0.6"/>
<line x1="129" y1="298.5" x2="130.7" y2="297.7" stroke="#333" stroke-width="0.6"/>
<path d="M119,386 Q119.5,392 124,392.8 L148,390.5 Q151.5,389.5 152.5,386" fill="none" stroke="#000" stroke-width="0.9" stroke-linejoin="round" />
<path d="M130,381.5 L148,377.5" fill="none" stroke="#444" stroke-width="0.7" stroke-linejoin="round" stroke-dasharray="2,1"/>
<path d="M130,384.5 L148,380.5" fill="none" stroke="#444" stroke-width="0.7" stroke-linejoin="round" stroke-dasharray="2,1"/>
<path d="M130,387.5 L148,383.5" fill="none" stroke="#444" stroke-width="0.7" stroke-linejoin="round" stroke-dasharray="2,1"/>
<path d="M130,390.5 L148,386.5" fill="none" stroke="#444" stroke-width="0.7" stroke-linejoin="round" stroke-dasharray="2,1"/>
<path d="M130,393.5 L148,389.5" fill="none" stroke="#444" stroke-width="0.7" stroke-linejoin="round" stroke-dasharray="2,1"/>
<ellipse cx="134" cy="385" rx="1.6" ry="1" fill="#fff" stroke="#000" stroke-width="0.6"/>
<ellipse cx="139" cy="383" rx="1.6" ry="1" fill="#fff" stroke="#000" stroke-width="0.6"/>
<ellipse cx="144" cy="386" rx="1.6" ry="1" fill="#fff" stroke="#000" stroke-width="0.6"/>
<ellipse cx="136" cy="390" rx="1.6" ry="1" fill="#fff" stroke="#000" stroke-width="0.6"/>
<ellipse cx="142" cy="389" rx="1.6" ry="1" fill="#fff" stroke="#000" stroke-width="0.6"/>
<ellipse cx="147" cy="391" rx="1.6" ry="1" fill="#fff" stroke="#000" stroke-width="0.6"/>
<ellipse cx="132" cy="380" rx="1.6" ry="1" fill="#fff" stroke="#000" stroke-width="0.6"/>
<ellipse cx="146" cy="380" rx="1.6" ry="1" fill="#fff" stroke="#000" stroke-width="0.6"/>
<path d="M160.2,375 L160.2,278 Q160.6,267 164.5,266.6 Q169,267 172.5,276 Q174.6,281 174.8,290 L175,375 Q174.2,387 167.5,387.6 Q161,387 160.2,375 Z" fill="none" stroke="#000" stroke-width="1.15" stroke-linejoin="round" />
<path d="M161.9,375 L161.9,279 Q162.3,269.5 164.8,269 Q168.5,269.5 171.5,277.5 Q173,282 173.2,290" fill="none" stroke="#333" stroke-width="0.6" stroke-linejoin="round" />
<path d="M173.2,360 L173.3,375 Q172.5,385 167.5,385.8 Q162.5,385 161.9,375" fill="none" stroke="#333" stroke-width="0.6" stroke-linejoin="round" />
<path d="M110.2,285.5 L110.2,275.5 Q109.5,274.3 106,274.5 L93,276.8 Q85,280 80,286 Q76.3,291 76,297 L76,310.5 Q79.5,312 79.8,314.5 L79.6,319.5 Q76,321 76,323 L76,378 Q79.5,380.5 79.8,383.5 L79.6,390.5 Q76,392.5 76,394.5 L76,407 Q78.5,413 84,416 L95,416.7 Q104,415 109.5,410.5 L110.2,400" fill="none" stroke="#000" stroke-width="2.9" stroke-linejoin="round" stroke-linecap="butt"/>
<path d="M110.2,285.5 L110.2,275.5 Q109.5,274.3 106,274.5 L93,276.8 Q85,280 80,286 Q76.3,291 76,297 L76,310.5 Q79.5,312 79.8,314.5 L79.6,319.5 Q76,321 76,323 L76,378 Q79.5,380.5 79.8,383.5 L79.6,390.5 Q76,392.5 76,394.5 L76,407 Q78.5,413 84,416 L95,416.7 Q104,415 109.5,410.5 L110.2,400" fill="none" stroke="#fff" stroke-width="1.0" stroke-linejoin="round" stroke-linecap="butt"/>
<line x1="76" y1="326" x2="76" y2="376" stroke="#222" stroke-width="2.6"/>
<path d="M429,501.5 L432,496.5 L452,508 L449,515" fill="none" stroke="#000" stroke-width="1.0" stroke-linejoin="round" />
<ellipse cx="431.2" cy="507.8" rx="1.8" ry="2.6" fill="#fff" stroke="#000" stroke-width="1.0"/>
<circle cx="441.5" cy="513" r="2.8" fill="#fff" stroke="#000" stroke-width="1.0"/>
<circle cx="441.5" cy="513" r="1.4" fill="#000" stroke="#000" stroke-width="0.7"/>
<path d="M477.5,466 L484,457.5 L513,474 L508.5,485" fill="none" stroke="#000" stroke-width="1.0" stroke-linejoin="round" />
<ellipse cx="481.5" cy="472.5" rx="3.4" ry="4.8" fill="#fff" stroke="#000" stroke-width="1.2" transform="rotate(15 481.5 472.5)"/>
<circle cx="497.5" cy="480.5" r="5.8" fill="#fff" stroke="#000" stroke-width="0.9"/>
<line x1="503.3" y1="480.5" x2="504.4" y2="481.5" stroke="#000" stroke-width="0.9"/>
<line x1="502.2" y1="483.9" x2="502.5" y2="485.4" stroke="#000" stroke-width="0.9"/>
<line x1="499.3" y1="486" x2="498.6" y2="487.4" stroke="#000" stroke-width="0.9"/>
<line x1="495.7" y1="486" x2="494.4" y2="486.8" stroke="#000" stroke-width="0.9"/>
<line x1="492.8" y1="483.9" x2="491.3" y2="483.7" stroke="#000" stroke-width="0.9"/>
<line x1="491.7" y1="480.5" x2="490.6" y2="479.5" stroke="#000" stroke-width="0.9"/>
<line x1="492.8" y1="477.1" x2="492.5" y2="475.6" stroke="#000" stroke-width="0.9"/>
<line x1="495.7" y1="475" x2="496.3" y2="473.6" stroke="#000" stroke-width="0.9"/>
<line x1="499.3" y1="475" x2="500.6" y2="474.2" stroke="#000" stroke-width="0.9"/>
<line x1="502.2" y1="477.1" x2="503.7" y2="477.3" stroke="#000" stroke-width="0.9"/>
<circle cx="497.5" cy="480.5" r="2.6" fill="#fff" stroke="#000" stroke-width="0.9"/>
<circle cx="497.5" cy="480.5" r="1" fill="#000" stroke="#000" stroke-width="0.6"/>
<path d="M491.5,477 Q492,475 494,474" fill="none" stroke="#000" stroke-width="1.4" stroke-linejoin="round" />
<circle cx="514" cy="423" r="4.9" fill="#fff" stroke="#000" stroke-width="1.0" stroke-dasharray="3.5,1.5"/>
<path d="M521,427.5 L525,424 L530,425.5 L532.8,429 L532.5,433.5 L529,435.5 L524,434.5 L520.5,431.5 Z" fill="none" stroke="#000" stroke-width="1.0" stroke-linejoin="round" />
<line x1="522" y1="426" x2="523.5" y2="433.5" stroke="#000" stroke-width="1.2"/>
<line x1="523.8" y1="425.7" x2="525.3" y2="433.3" stroke="#000" stroke-width="1.2"/>
<line x1="525.6" y1="425.4" x2="527.1" y2="433.1" stroke="#000" stroke-width="1.2"/>
<line x1="527.4" y1="425.1" x2="528.9" y2="432.9" stroke="#000" stroke-width="1.2"/>
<ellipse cx="529.5" cy="430.5" rx="2.2" ry="3.2" fill="#fff" stroke="#000" stroke-width="0.9"/>
<line x1="524" y1="434" x2="529" y2="435.5" stroke="#000" stroke-width="1.8"/>
<path d="M532.2,439.6 L528.7,445.6 L552.9,459.4 L559,452.5" fill="none" stroke="#000" stroke-width="1.0" stroke-linejoin="round" />
<ellipse cx="540.2" cy="437.2" rx="2.9" ry="4.6" transform="rotate(18 540.2 437.2)" fill="#fff" stroke="#000" stroke-width="1.0" stroke-dasharray="3,1.3"/>
<path d="M550,439.5 L555.5,438.5 L559.5,443 L558.5,449 L553,450.8 L548,447 Z" fill="none" stroke="#000" stroke-width="0.9" stroke-linejoin="round" />
<path d="M550,439.5 L548,447 L550,449" fill="none" stroke="#000" stroke-width="2.0" stroke-linejoin="round" />
<circle cx="554.5" cy="444.8" r="2" fill="#fff" stroke="#000" stroke-width="0.9"/>
<circle cx="554.5" cy="444.8" r="0.8" fill="#555" stroke="#000" stroke-width="0.5"/>
<text transform="translate(470.2 30.8) scale(0.95 1)" font-size="10">400</text>
<text transform="translate(507.7 40.8) scale(0.95 1)" font-size="10">390</text>
<text transform="translate(422.2 53.9) scale(0.95 1)" font-size="10">380</text>
<text transform="translate(534.6 104.1) scale(0.95 1)" font-size="10">050</text>
<text transform="translate(570.9 120.3) scale(0.95 1)" font-size="10">040</text>
<text transform="translate(506.2 142.3) scale(0.95 1)" font-size="10">030</text>
<text transform="translate(717.2 112.3) scale(0.95 1)" font-size="10">242</text>
<text transform="translate(743.8 122.3) scale(0.95 1)" font-size="10">240</text>
<text transform="translate(696.2 134.3) scale(0.95 1)" font-size="10">230</text>
<text transform="translate(671.2 143.3) scale(0.95 1)" font-size="10">220</text>
<text transform="translate(637 170.3) scale(0.95 1)" font-size="10">140</text>
<text transform="translate(653.5 205.8) scale(0.95 1)" font-size="10">120</text>
<text transform="translate(589.2 199) scale(0.95 1)" font-size="10">100</text>
<text transform="translate(541.9 215.6) scale(0.95 1)" font-size="10">110</text>
<text transform="translate(487.9 229.3) scale(0.95 1)" font-size="10">090</text>
<text transform="translate(559.6 253.6) scale(0.95 1)" font-size="10">150</text>
<text transform="translate(600 243.3) scale(0.95 1)" font-size="10">160</text>
<text transform="translate(553.9 305.3) scale(0.95 1)" font-size="10">210</text>
<text transform="translate(584.4 299.3) scale(0.95 1)" font-size="10">204</text>
<text transform="translate(474.7 336.4) scale(0.95 1)" font-size="10">080</text>
<text transform="translate(506.2 347.7) scale(0.95 1)" font-size="10">070</text>
<text transform="translate(536.9 369.3) scale(0.95 1)" font-size="10">060</text>
<text transform="translate(376.6 340.9) scale(0.95 1)" font-size="10">010</text>
<text transform="translate(317.6 191.3) scale(0.95 1)" font-size="10">290</text>
<text transform="translate(283.9 200.3) scale(0.95 1)" font-size="10">300</text>
<text transform="translate(180.3 213.3) scale(0.95 1)" font-size="10">360</text>
<text transform="translate(219 231.3) scale(0.95 1)" font-size="10">362</text>
<text transform="translate(168.9 251.3) scale(0.95 1)" font-size="10">370</text>
<text transform="translate(262.2 244.1) scale(0.95 1)" font-size="10">314</text>
<text transform="translate(247.5 266) scale(0.95 1)" font-size="10">340</text>
<text transform="translate(286.5 258.7) scale(0.95 1)" font-size="10">312</text>
<text transform="translate(323.9 262) scale(0.95 1)" font-size="10">310</text>
<text transform="translate(301.9 286.3) scale(0.95 1)" font-size="10">320</text>
<text transform="translate(333.2 287.3) scale(0.95 1)" font-size="10">342</text>
<text transform="translate(198.1 310.9) scale(0.95 1)" font-size="10">350</text>
<text transform="translate(261.4 316.6) scale(0.95 1)" font-size="10">280</text>
<text transform="translate(297.7 309.1) scale(0.95 1)" font-size="10">270</text>
<text transform="translate(323.9 375) scale(0.95 1)" font-size="10">206</text>
<text transform="translate(297.2 382.5) scale(0.95 1)" font-size="10">200</text>
<text transform="translate(278 408.7) scale(0.95 1)" font-size="10">180</text>
<text transform="translate(251.8 396.6) scale(0.95 1)" font-size="10">250</text>
<text transform="translate(224.2 423.7) scale(0.95 1)" font-size="10">260</text>
<text transform="translate(127.4 408.7) scale(0.95 1)" font-size="10">410</text>
<text transform="translate(165.5 399.3) scale(0.95 1)" font-size="10">420</text>
<text transform="translate(86.6 429.7) scale(0.95 1)" font-size="10">430</text>
<text transform="translate(514.2 403.6) scale(0.95 1)" font-size="10">460</text>
<text transform="translate(523.7 423.5) scale(0.95 1)" font-size="10">470</text>
<text transform="translate(552.2 423.5) scale(0.95 1)" font-size="10">480/020</text>
<text transform="translate(537.6 475.3) scale(0.95 1)" font-size="10">480</text>
<text transform="translate(486.9 453.3) scale(0.95 1)" font-size="10">012</text>
<text transform="translate(522.2 497.3) scale(0.95 1)" font-size="10">012/010</text>
<text transform="translate(464.2 513.3) scale(0.95 1)" font-size="10">012/020</text>
<text transform="translate(434.2 491.3) scale(0.95 1)" font-size="10">440</text>
<text transform="translate(381.2 525.3) scale(0.95 1)" font-size="10">440/020</text>
</svg>
</body></html>
